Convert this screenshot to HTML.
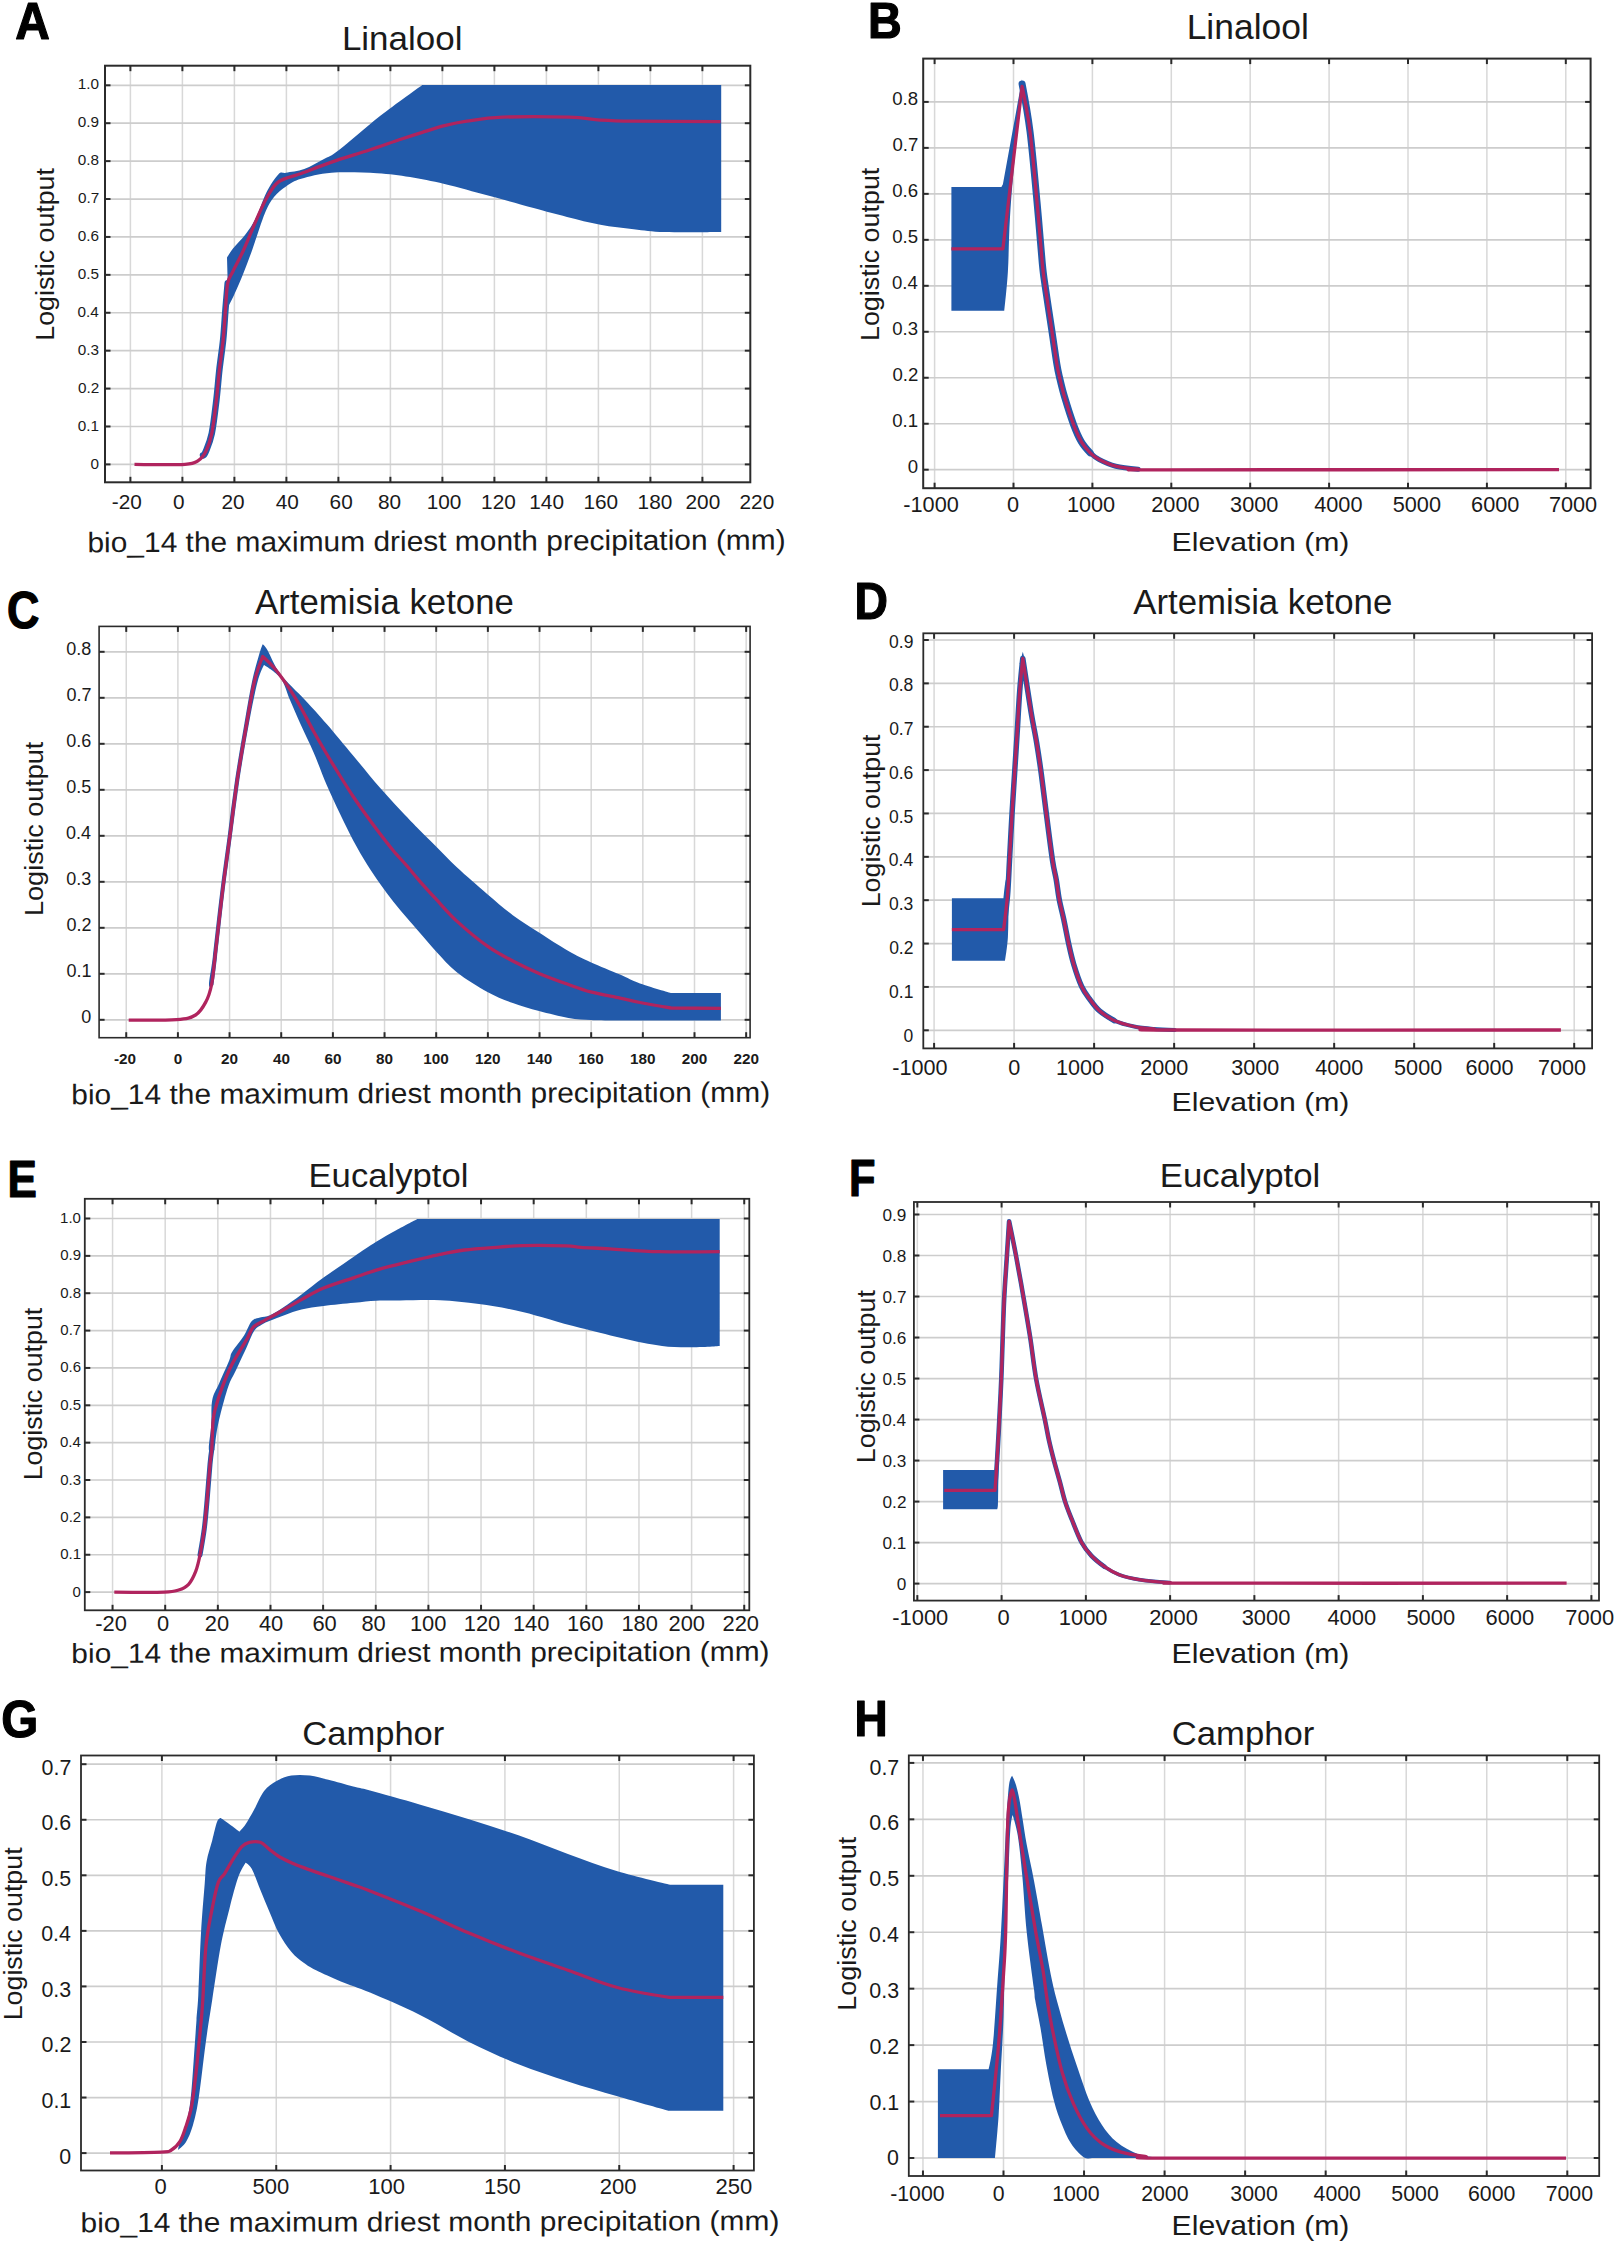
<!DOCTYPE html>
<html><head><meta charset="utf-8"><title>Response curves</title>
<style>
html,body{margin:0;padding:0;background:#fff;}
svg{display:block;}
text{font-family:"Liberation Sans",Arial,sans-serif;fill:#1a1a1a;}
</style></head><body>
<svg width="1617" height="2244" viewBox="0 0 1617 2244">
<rect width="1617" height="2244" fill="#fff"/>
<line x1="130.4" y1="65.7" x2="130.4" y2="482.3" stroke="#d8d8d8" stroke-width="1.5"/>
<line x1="182.4" y1="65.7" x2="182.4" y2="482.3" stroke="#d8d8d8" stroke-width="1.5"/>
<line x1="234.4" y1="65.7" x2="234.4" y2="482.3" stroke="#d8d8d8" stroke-width="1.5"/>
<line x1="286.4" y1="65.7" x2="286.4" y2="482.3" stroke="#d8d8d8" stroke-width="1.5"/>
<line x1="338.4" y1="65.7" x2="338.4" y2="482.3" stroke="#d8d8d8" stroke-width="1.5"/>
<line x1="390.4" y1="65.7" x2="390.4" y2="482.3" stroke="#d8d8d8" stroke-width="1.5"/>
<line x1="442.4" y1="65.7" x2="442.4" y2="482.3" stroke="#d8d8d8" stroke-width="1.5"/>
<line x1="494.4" y1="65.7" x2="494.4" y2="482.3" stroke="#d8d8d8" stroke-width="1.5"/>
<line x1="546.4" y1="65.7" x2="546.4" y2="482.3" stroke="#d8d8d8" stroke-width="1.5"/>
<line x1="598.4" y1="65.7" x2="598.4" y2="482.3" stroke="#d8d8d8" stroke-width="1.5"/>
<line x1="650.4" y1="65.7" x2="650.4" y2="482.3" stroke="#d8d8d8" stroke-width="1.5"/>
<line x1="702.4" y1="65.7" x2="702.4" y2="482.3" stroke="#d8d8d8" stroke-width="1.5"/>
<line x1="105" y1="464.4" x2="750.3" y2="464.4" stroke="#cdcdcd" stroke-width="1.7"/>
<line x1="105" y1="426.49" x2="750.3" y2="426.49" stroke="#cdcdcd" stroke-width="1.7"/>
<line x1="105" y1="388.58" x2="750.3" y2="388.58" stroke="#cdcdcd" stroke-width="1.7"/>
<line x1="105" y1="350.67" x2="750.3" y2="350.67" stroke="#cdcdcd" stroke-width="1.7"/>
<line x1="105" y1="312.76" x2="750.3" y2="312.76" stroke="#cdcdcd" stroke-width="1.7"/>
<line x1="105" y1="274.85" x2="750.3" y2="274.85" stroke="#cdcdcd" stroke-width="1.7"/>
<line x1="105" y1="236.94" x2="750.3" y2="236.94" stroke="#cdcdcd" stroke-width="1.7"/>
<line x1="105" y1="199.03" x2="750.3" y2="199.03" stroke="#cdcdcd" stroke-width="1.7"/>
<line x1="105" y1="161.12" x2="750.3" y2="161.12" stroke="#cdcdcd" stroke-width="1.7"/>
<line x1="105" y1="123.21" x2="750.3" y2="123.21" stroke="#cdcdcd" stroke-width="1.7"/>
<line x1="105" y1="85.3" x2="750.3" y2="85.3" stroke="#cdcdcd" stroke-width="1.7"/>
<path d="M227.7,283.3L227,257.6C227,257.6 229.97,252.3 233,248.5C236.03,244.7 241.4,239.85 245.2,234.8C249,229.75 252.27,225.27 255.8,218.2C259.33,211.13 262.62,199.73 266.4,192.4C270.18,185.07 275.23,177.48 278.5,174.2C281.77,170.92 281.72,173.57 286,172.7C290.28,171.83 297.87,171.28 304.2,169C310.53,166.72 318.2,162.17 324,159C329.8,155.83 329.67,157.17 339,150C348.33,142.83 366.12,126.85 380,116C393.88,105.15 422.3,84.9 422.3,84.9L721.2,84.9L721.2,232.1C721.2,232.1 679.58,232.58 665,232.1C650.42,231.62 644.47,230.43 633.7,229.2C622.93,227.97 611.52,226.75 600.4,224.7C589.28,222.65 578.13,219.68 567,216.9C555.87,214.12 546.6,211.52 533.6,208C520.6,204.48 503.85,199.8 489,195.8C474.15,191.8 457.67,187.13 444.5,184C431.33,180.87 421.25,178.8 410,177C398.75,175.2 390.08,173.92 377,173.2C363.92,172.48 344.13,171.77 331.5,172.7C318.87,173.63 308.78,176.52 301.2,178.8C293.62,181.08 290.53,183.37 286,186.4C281.47,189.43 277.53,192.47 274,197C270.47,201.53 268.35,205.02 264.8,213.6C261.25,222.18 256.23,238.65 252.7,248.5C249.17,258.35 246.63,265.12 243.6,272.7C240.57,280.28 237.27,287.95 234.5,294C231.73,300.05 227,309 227,309L227.7,283.3Z" fill="#225aaa"/>
<path d="M203,455.5C203,455.5 204.33,455.2 205.8,451.5C207.27,447.8 210.03,441.88 211.8,433.3C213.57,424.72 215.13,410.6 216.4,400C217.67,389.4 218.27,379.8 219.4,369.7C220.53,359.6 222.18,349.5 223.2,339.4C224.22,329.3 224.75,318.45 225.5,309.1C226.25,299.75 227.7,283.3 227.7,283.3" fill="none" stroke="#225aaa" stroke-width="6.5" stroke-linejoin="round" stroke-linecap="round"/>
<path d="M134.5,464.4C134.5,464.4 174.38,465.03 185,464.4C195.62,463.77 194.73,462.75 198.2,460.6C201.67,458.45 203.53,456.05 205.8,451.5C208.07,446.95 210.03,441.88 211.8,433.3C213.57,424.72 215.13,410.6 216.4,400C217.67,389.4 218.27,379.8 219.4,369.7C220.53,359.6 222.18,349.5 223.2,339.4C224.22,329.3 224.75,318.45 225.5,309.1C226.25,299.75 226.45,289.62 227.7,283.3C228.95,276.98 230.35,276.75 233,271.2C235.65,265.65 239.8,258.33 243.6,250C247.4,241.67 252,229.78 255.8,221.2C259.6,212.62 262.62,205.07 266.4,198.5C270.18,191.93 272.7,185.97 278.5,181.8C284.3,177.63 292.37,176.78 301.2,173.5C310.03,170.22 320.13,166.02 331.5,162.1C342.87,158.18 357.98,153.77 369.4,150C380.82,146.23 391.18,142.45 400,139.5C408.82,136.55 414.88,134.6 422.3,132.3C429.72,130 437.08,127.55 444.5,125.7C451.92,123.85 457.15,122.62 466.8,121.2C476.45,119.78 485.33,117.87 502.4,117.2C519.47,116.53 552.87,116.72 569.2,117.2C585.53,117.68 589.65,119.43 600.4,120.1C611.15,120.77 613.67,120.95 633.7,121.2C653.73,121.45 720.6,121.6 720.6,121.6" fill="none" stroke="#b0245e" stroke-width="3.3" stroke-linejoin="round" stroke-linecap="butt"/>
<rect x="105" y="65.7" width="645.3" height="416.6" fill="none" stroke="#2b2b2b" stroke-width="2.0"/>
<line x1="130.4" y1="482.3" x2="130.4" y2="476.8" stroke="#2b2b2b" stroke-width="2.0"/>
<line x1="130.4" y1="65.7" x2="130.4" y2="71.2" stroke="#2b2b2b" stroke-width="2.0"/>
<line x1="182.4" y1="482.3" x2="182.4" y2="476.8" stroke="#2b2b2b" stroke-width="2.0"/>
<line x1="182.4" y1="65.7" x2="182.4" y2="71.2" stroke="#2b2b2b" stroke-width="2.0"/>
<line x1="234.4" y1="482.3" x2="234.4" y2="476.8" stroke="#2b2b2b" stroke-width="2.0"/>
<line x1="234.4" y1="65.7" x2="234.4" y2="71.2" stroke="#2b2b2b" stroke-width="2.0"/>
<line x1="286.4" y1="482.3" x2="286.4" y2="476.8" stroke="#2b2b2b" stroke-width="2.0"/>
<line x1="286.4" y1="65.7" x2="286.4" y2="71.2" stroke="#2b2b2b" stroke-width="2.0"/>
<line x1="338.4" y1="482.3" x2="338.4" y2="476.8" stroke="#2b2b2b" stroke-width="2.0"/>
<line x1="338.4" y1="65.7" x2="338.4" y2="71.2" stroke="#2b2b2b" stroke-width="2.0"/>
<line x1="390.4" y1="482.3" x2="390.4" y2="476.8" stroke="#2b2b2b" stroke-width="2.0"/>
<line x1="390.4" y1="65.7" x2="390.4" y2="71.2" stroke="#2b2b2b" stroke-width="2.0"/>
<line x1="442.4" y1="482.3" x2="442.4" y2="476.8" stroke="#2b2b2b" stroke-width="2.0"/>
<line x1="442.4" y1="65.7" x2="442.4" y2="71.2" stroke="#2b2b2b" stroke-width="2.0"/>
<line x1="494.4" y1="482.3" x2="494.4" y2="476.8" stroke="#2b2b2b" stroke-width="2.0"/>
<line x1="494.4" y1="65.7" x2="494.4" y2="71.2" stroke="#2b2b2b" stroke-width="2.0"/>
<line x1="546.4" y1="482.3" x2="546.4" y2="476.8" stroke="#2b2b2b" stroke-width="2.0"/>
<line x1="546.4" y1="65.7" x2="546.4" y2="71.2" stroke="#2b2b2b" stroke-width="2.0"/>
<line x1="598.4" y1="482.3" x2="598.4" y2="476.8" stroke="#2b2b2b" stroke-width="2.0"/>
<line x1="598.4" y1="65.7" x2="598.4" y2="71.2" stroke="#2b2b2b" stroke-width="2.0"/>
<line x1="650.4" y1="482.3" x2="650.4" y2="476.8" stroke="#2b2b2b" stroke-width="2.0"/>
<line x1="650.4" y1="65.7" x2="650.4" y2="71.2" stroke="#2b2b2b" stroke-width="2.0"/>
<line x1="702.4" y1="482.3" x2="702.4" y2="476.8" stroke="#2b2b2b" stroke-width="2.0"/>
<line x1="702.4" y1="65.7" x2="702.4" y2="71.2" stroke="#2b2b2b" stroke-width="2.0"/>
<line x1="105" y1="464.4" x2="110.5" y2="464.4" stroke="#2b2b2b" stroke-width="2.0"/>
<line x1="750.3" y1="464.4" x2="744.8" y2="464.4" stroke="#2b2b2b" stroke-width="2.0"/>
<line x1="105" y1="426.49" x2="110.5" y2="426.49" stroke="#2b2b2b" stroke-width="2.0"/>
<line x1="750.3" y1="426.49" x2="744.8" y2="426.49" stroke="#2b2b2b" stroke-width="2.0"/>
<line x1="105" y1="388.58" x2="110.5" y2="388.58" stroke="#2b2b2b" stroke-width="2.0"/>
<line x1="750.3" y1="388.58" x2="744.8" y2="388.58" stroke="#2b2b2b" stroke-width="2.0"/>
<line x1="105" y1="350.67" x2="110.5" y2="350.67" stroke="#2b2b2b" stroke-width="2.0"/>
<line x1="750.3" y1="350.67" x2="744.8" y2="350.67" stroke="#2b2b2b" stroke-width="2.0"/>
<line x1="105" y1="312.76" x2="110.5" y2="312.76" stroke="#2b2b2b" stroke-width="2.0"/>
<line x1="750.3" y1="312.76" x2="744.8" y2="312.76" stroke="#2b2b2b" stroke-width="2.0"/>
<line x1="105" y1="274.85" x2="110.5" y2="274.85" stroke="#2b2b2b" stroke-width="2.0"/>
<line x1="750.3" y1="274.85" x2="744.8" y2="274.85" stroke="#2b2b2b" stroke-width="2.0"/>
<line x1="105" y1="236.94" x2="110.5" y2="236.94" stroke="#2b2b2b" stroke-width="2.0"/>
<line x1="750.3" y1="236.94" x2="744.8" y2="236.94" stroke="#2b2b2b" stroke-width="2.0"/>
<line x1="105" y1="199.03" x2="110.5" y2="199.03" stroke="#2b2b2b" stroke-width="2.0"/>
<line x1="750.3" y1="199.03" x2="744.8" y2="199.03" stroke="#2b2b2b" stroke-width="2.0"/>
<line x1="105" y1="161.12" x2="110.5" y2="161.12" stroke="#2b2b2b" stroke-width="2.0"/>
<line x1="750.3" y1="161.12" x2="744.8" y2="161.12" stroke="#2b2b2b" stroke-width="2.0"/>
<line x1="105" y1="123.21" x2="110.5" y2="123.21" stroke="#2b2b2b" stroke-width="2.0"/>
<line x1="750.3" y1="123.21" x2="744.8" y2="123.21" stroke="#2b2b2b" stroke-width="2.0"/>
<line x1="105" y1="85.3" x2="110.5" y2="85.3" stroke="#2b2b2b" stroke-width="2.0"/>
<line x1="750.3" y1="85.3" x2="744.8" y2="85.3" stroke="#2b2b2b" stroke-width="2.0"/>
<text x="90.44" y="468.5" font-size="15.3" textLength="8.51" lengthAdjust="spacingAndGlyphs">0</text>
<text x="77.82" y="430.59" font-size="15.3" textLength="21.27" lengthAdjust="spacingAndGlyphs">0.1</text>
<text x="77.9" y="392.68" font-size="15.3" textLength="21.27" lengthAdjust="spacingAndGlyphs">0.2</text>
<text x="77.75" y="354.77" font-size="15.3" textLength="21.27" lengthAdjust="spacingAndGlyphs">0.3</text>
<text x="77.59" y="316.86" font-size="15.3" textLength="21.27" lengthAdjust="spacingAndGlyphs">0.4</text>
<text x="77.75" y="278.95" font-size="15.3" textLength="21.27" lengthAdjust="spacingAndGlyphs">0.5</text>
<text x="77.75" y="241.04" font-size="15.3" textLength="21.27" lengthAdjust="spacingAndGlyphs">0.6</text>
<text x="77.9" y="203.13" font-size="15.3" textLength="21.27" lengthAdjust="spacingAndGlyphs">0.7</text>
<text x="77.75" y="165.22" font-size="15.3" textLength="21.27" lengthAdjust="spacingAndGlyphs">0.8</text>
<text x="77.82" y="127.31" font-size="15.3" textLength="21.27" lengthAdjust="spacingAndGlyphs">0.9</text>
<text x="77.67" y="89.4" font-size="15.3" textLength="21.27" lengthAdjust="spacingAndGlyphs">1.0</text>
<text x="111.77" y="508.6" font-size="20.8" textLength="30.06" lengthAdjust="spacingAndGlyphs">-20</text>
<text x="172.98" y="508.6" font-size="20.8" textLength="11.57" lengthAdjust="spacingAndGlyphs">0</text>
<text x="221.4" y="508.6" font-size="20.8" textLength="23.14" lengthAdjust="spacingAndGlyphs">20</text>
<text x="275.71" y="508.6" font-size="20.8" textLength="23.14" lengthAdjust="spacingAndGlyphs">40</text>
<text x="329.6" y="508.6" font-size="20.8" textLength="23.14" lengthAdjust="spacingAndGlyphs">60</text>
<text x="377.95" y="508.6" font-size="20.8" textLength="23.14" lengthAdjust="spacingAndGlyphs">80</text>
<text x="426.67" y="508.6" font-size="20.8" textLength="34.71" lengthAdjust="spacingAndGlyphs">100</text>
<text x="481.07" y="508.6" font-size="20.8" textLength="34.71" lengthAdjust="spacingAndGlyphs">120</text>
<text x="529.27" y="508.6" font-size="20.8" textLength="34.71" lengthAdjust="spacingAndGlyphs">140</text>
<text x="583.47" y="508.6" font-size="20.8" textLength="34.71" lengthAdjust="spacingAndGlyphs">160</text>
<text x="637.57" y="508.6" font-size="20.8" textLength="34.71" lengthAdjust="spacingAndGlyphs">180</text>
<text x="685.53" y="508.6" font-size="20.8" textLength="34.71" lengthAdjust="spacingAndGlyphs">200</text>
<text x="739.53" y="508.6" font-size="20.8" textLength="34.71" lengthAdjust="spacingAndGlyphs">220</text>
<text x="15.3" y="38.6" font-size="52.32" font-weight="bold" textLength="34.6" lengthAdjust="spacingAndGlyphs" style="fill:#000;stroke:#000;stroke-width:1.2px;stroke-linejoin:round">A</text>
<text x="341.9" y="50.2" font-size="33.66" textLength="120.56" lengthAdjust="spacingAndGlyphs">Linalool</text>
<text x="87.46" y="550.8" font-size="28.28" textLength="698.23" lengthAdjust="spacingAndGlyphs" transform="rotate(-0.23 436.6 550.8)">bio_14 the maximum driest month precipitation (mm)</text>
<text x="-340.74" y="53.8" font-size="24.93" textLength="172.68" lengthAdjust="spacingAndGlyphs" transform="rotate(-90)">Logistic output</text>
<line x1="934.6" y1="58.6" x2="934.6" y2="488.2" stroke="#d8d8d8" stroke-width="1.5"/>
<line x1="1013.5" y1="58.6" x2="1013.5" y2="488.2" stroke="#d8d8d8" stroke-width="1.5"/>
<line x1="1092.4" y1="58.6" x2="1092.4" y2="488.2" stroke="#d8d8d8" stroke-width="1.5"/>
<line x1="1171.3" y1="58.6" x2="1171.3" y2="488.2" stroke="#d8d8d8" stroke-width="1.5"/>
<line x1="1250.2" y1="58.6" x2="1250.2" y2="488.2" stroke="#d8d8d8" stroke-width="1.5"/>
<line x1="1329.1" y1="58.6" x2="1329.1" y2="488.2" stroke="#d8d8d8" stroke-width="1.5"/>
<line x1="1408" y1="58.6" x2="1408" y2="488.2" stroke="#d8d8d8" stroke-width="1.5"/>
<line x1="1486.9" y1="58.6" x2="1486.9" y2="488.2" stroke="#d8d8d8" stroke-width="1.5"/>
<line x1="1565.8" y1="58.6" x2="1565.8" y2="488.2" stroke="#d8d8d8" stroke-width="1.5"/>
<line x1="923.2" y1="469.7" x2="1590.6" y2="469.7" stroke="#cdcdcd" stroke-width="1.7"/>
<line x1="923.2" y1="423.73" x2="1590.6" y2="423.73" stroke="#cdcdcd" stroke-width="1.7"/>
<line x1="923.2" y1="377.75" x2="1590.6" y2="377.75" stroke="#cdcdcd" stroke-width="1.7"/>
<line x1="923.2" y1="331.77" x2="1590.6" y2="331.77" stroke="#cdcdcd" stroke-width="1.7"/>
<line x1="923.2" y1="285.8" x2="1590.6" y2="285.8" stroke="#cdcdcd" stroke-width="1.7"/>
<line x1="923.2" y1="239.83" x2="1590.6" y2="239.83" stroke="#cdcdcd" stroke-width="1.7"/>
<line x1="923.2" y1="193.85" x2="1590.6" y2="193.85" stroke="#cdcdcd" stroke-width="1.7"/>
<line x1="923.2" y1="147.88" x2="1590.6" y2="147.88" stroke="#cdcdcd" stroke-width="1.7"/>
<line x1="923.2" y1="101.9" x2="1590.6" y2="101.9" stroke="#cdcdcd" stroke-width="1.7"/>
<path d="M951.4,187.1L1001.4,187.1L1002.9,184.3L1022.1,78.6C1022.1,78.6 1017.72,122.63 1015.7,145.7C1013.68,168.77 1011.3,196.05 1010,217C1008.7,237.95 1008.85,255.78 1007.9,271.4C1006.95,287.02 1004.3,310.7 1004.3,310.7L951.4,310.7L951.4,187.1Z" fill="#225aaa"/>
<path d="M1022.1,84C1022.1,84 1027.5,111.58 1030,131.4C1032.5,151.22 1035.05,180.9 1037.1,202.9C1039.15,224.9 1040.97,249.6 1042.3,263.4C1043.63,277.2 1043.52,274.55 1045.1,285.7C1046.68,296.85 1049.85,317.3 1051.8,330.3C1053.75,343.3 1055.5,355.82 1056.8,363.7C1058.1,371.58 1058.3,372.03 1059.6,377.6C1060.9,383.17 1062.28,389.3 1064.6,397.1C1066.92,404.9 1070.72,416.97 1073.5,424.4C1076.28,431.83 1078.52,436.97 1081.3,441.7C1084.08,446.43 1090.2,452.8 1090.2,452.8" fill="none" stroke="#225aaa" stroke-width="7.0" stroke-linejoin="round" stroke-linecap="round"/>
<path d="M1081.3,441.7C1081.3,441.7 1087.23,449.83 1090.2,452.8C1093.17,455.77 1094.83,457.27 1099.1,459.5C1103.37,461.73 1109.3,464.58 1115.8,466.2C1122.3,467.82 1138.1,469.2 1138.1,469.2" fill="none" stroke="#225aaa" stroke-width="5.0" stroke-linejoin="round" stroke-linecap="round"/>
<path d="M951.4,248.9C951.4,248.9 1002.9,248.9 1002.9,248.9L1022.1,86.4C1022.1,86.4 1027.5,111.98 1030,131.4C1032.5,150.82 1035.05,180.9 1037.1,202.9C1039.15,224.9 1040.97,249.6 1042.3,263.4C1043.63,277.2 1043.52,274.55 1045.1,285.7C1046.68,296.85 1049.85,317.3 1051.8,330.3C1053.75,343.3 1055.5,355.82 1056.8,363.7C1058.1,371.58 1058.3,372.03 1059.6,377.6C1060.9,383.17 1062.28,389.3 1064.6,397.1C1066.92,404.9 1070.72,416.97 1073.5,424.4C1076.28,431.83 1078.52,436.97 1081.3,441.7C1084.08,446.43 1087.23,449.83 1090.2,452.8C1093.17,455.77 1094.83,457.27 1099.1,459.5C1103.37,461.73 1109.3,464.58 1115.8,466.2C1122.3,467.82 1129.73,468.6 1138.1,469.2C1146.47,469.8 1095.85,469.73 1166,469.8C1236.15,469.87 1559,469.6 1559,469.6" fill="none" stroke="#b0245e" stroke-width="3.3" stroke-linejoin="round" stroke-linecap="butt"/>
<rect x="923.2" y="58.6" width="667.4" height="429.6" fill="none" stroke="#2b2b2b" stroke-width="2.0"/>
<line x1="934.6" y1="488.2" x2="934.6" y2="482.7" stroke="#2b2b2b" stroke-width="2.0"/>
<line x1="934.6" y1="58.6" x2="934.6" y2="64.1" stroke="#2b2b2b" stroke-width="2.0"/>
<line x1="1013.5" y1="488.2" x2="1013.5" y2="482.7" stroke="#2b2b2b" stroke-width="2.0"/>
<line x1="1013.5" y1="58.6" x2="1013.5" y2="64.1" stroke="#2b2b2b" stroke-width="2.0"/>
<line x1="1092.4" y1="488.2" x2="1092.4" y2="482.7" stroke="#2b2b2b" stroke-width="2.0"/>
<line x1="1092.4" y1="58.6" x2="1092.4" y2="64.1" stroke="#2b2b2b" stroke-width="2.0"/>
<line x1="1171.3" y1="488.2" x2="1171.3" y2="482.7" stroke="#2b2b2b" stroke-width="2.0"/>
<line x1="1171.3" y1="58.6" x2="1171.3" y2="64.1" stroke="#2b2b2b" stroke-width="2.0"/>
<line x1="1250.2" y1="488.2" x2="1250.2" y2="482.7" stroke="#2b2b2b" stroke-width="2.0"/>
<line x1="1250.2" y1="58.6" x2="1250.2" y2="64.1" stroke="#2b2b2b" stroke-width="2.0"/>
<line x1="1329.1" y1="488.2" x2="1329.1" y2="482.7" stroke="#2b2b2b" stroke-width="2.0"/>
<line x1="1329.1" y1="58.6" x2="1329.1" y2="64.1" stroke="#2b2b2b" stroke-width="2.0"/>
<line x1="1408" y1="488.2" x2="1408" y2="482.7" stroke="#2b2b2b" stroke-width="2.0"/>
<line x1="1408" y1="58.6" x2="1408" y2="64.1" stroke="#2b2b2b" stroke-width="2.0"/>
<line x1="1486.9" y1="488.2" x2="1486.9" y2="482.7" stroke="#2b2b2b" stroke-width="2.0"/>
<line x1="1486.9" y1="58.6" x2="1486.9" y2="64.1" stroke="#2b2b2b" stroke-width="2.0"/>
<line x1="1565.8" y1="488.2" x2="1565.8" y2="482.7" stroke="#2b2b2b" stroke-width="2.0"/>
<line x1="1565.8" y1="58.6" x2="1565.8" y2="64.1" stroke="#2b2b2b" stroke-width="2.0"/>
<line x1="923.2" y1="469.7" x2="928.7" y2="469.7" stroke="#2b2b2b" stroke-width="2.0"/>
<line x1="1590.6" y1="469.7" x2="1585.1" y2="469.7" stroke="#2b2b2b" stroke-width="2.0"/>
<line x1="923.2" y1="423.73" x2="928.7" y2="423.73" stroke="#2b2b2b" stroke-width="2.0"/>
<line x1="1590.6" y1="423.73" x2="1585.1" y2="423.73" stroke="#2b2b2b" stroke-width="2.0"/>
<line x1="923.2" y1="377.75" x2="928.7" y2="377.75" stroke="#2b2b2b" stroke-width="2.0"/>
<line x1="1590.6" y1="377.75" x2="1585.1" y2="377.75" stroke="#2b2b2b" stroke-width="2.0"/>
<line x1="923.2" y1="331.77" x2="928.7" y2="331.77" stroke="#2b2b2b" stroke-width="2.0"/>
<line x1="1590.6" y1="331.77" x2="1585.1" y2="331.77" stroke="#2b2b2b" stroke-width="2.0"/>
<line x1="923.2" y1="285.8" x2="928.7" y2="285.8" stroke="#2b2b2b" stroke-width="2.0"/>
<line x1="1590.6" y1="285.8" x2="1585.1" y2="285.8" stroke="#2b2b2b" stroke-width="2.0"/>
<line x1="923.2" y1="239.83" x2="928.7" y2="239.83" stroke="#2b2b2b" stroke-width="2.0"/>
<line x1="1590.6" y1="239.83" x2="1585.1" y2="239.83" stroke="#2b2b2b" stroke-width="2.0"/>
<line x1="923.2" y1="193.85" x2="928.7" y2="193.85" stroke="#2b2b2b" stroke-width="2.0"/>
<line x1="1590.6" y1="193.85" x2="1585.1" y2="193.85" stroke="#2b2b2b" stroke-width="2.0"/>
<line x1="923.2" y1="147.88" x2="928.7" y2="147.88" stroke="#2b2b2b" stroke-width="2.0"/>
<line x1="1590.6" y1="147.88" x2="1585.1" y2="147.88" stroke="#2b2b2b" stroke-width="2.0"/>
<line x1="923.2" y1="101.9" x2="928.7" y2="101.9" stroke="#2b2b2b" stroke-width="2.0"/>
<line x1="1590.6" y1="101.9" x2="1585.1" y2="101.9" stroke="#2b2b2b" stroke-width="2.0"/>
<text x="907.63" y="473.2" font-size="18.6" textLength="10.34" lengthAdjust="spacingAndGlyphs">0</text>
<text x="892.28" y="427.23" font-size="18.6" textLength="25.86" lengthAdjust="spacingAndGlyphs">0.1</text>
<text x="892.38" y="381.25" font-size="18.6" textLength="25.86" lengthAdjust="spacingAndGlyphs">0.2</text>
<text x="892.19" y="335.27" font-size="18.6" textLength="25.86" lengthAdjust="spacingAndGlyphs">0.3</text>
<text x="892" y="289.3" font-size="18.6" textLength="25.86" lengthAdjust="spacingAndGlyphs">0.4</text>
<text x="892.19" y="243.33" font-size="18.6" textLength="25.86" lengthAdjust="spacingAndGlyphs">0.5</text>
<text x="892.19" y="197.35" font-size="18.6" textLength="25.86" lengthAdjust="spacingAndGlyphs">0.6</text>
<text x="892.38" y="151.38" font-size="18.6" textLength="25.86" lengthAdjust="spacingAndGlyphs">0.7</text>
<text x="892.19" y="105.4" font-size="18.6" textLength="25.86" lengthAdjust="spacingAndGlyphs">0.8</text>
<text x="903.27" y="512" font-size="21.7" textLength="55.5" lengthAdjust="spacingAndGlyphs">-1000</text>
<text x="1007.12" y="512" font-size="21.7" textLength="12.07" lengthAdjust="spacingAndGlyphs">0</text>
<text x="1066.92" y="512" font-size="21.7" textLength="48.28" lengthAdjust="spacingAndGlyphs">1000</text>
<text x="1151.3" y="512" font-size="21.7" textLength="48.28" lengthAdjust="spacingAndGlyphs">2000</text>
<text x="1230.1" y="512" font-size="21.7" textLength="48.28" lengthAdjust="spacingAndGlyphs">3000</text>
<text x="1314.22" y="512" font-size="21.7" textLength="48.28" lengthAdjust="spacingAndGlyphs">4000</text>
<text x="1392.7" y="512" font-size="21.7" textLength="48.28" lengthAdjust="spacingAndGlyphs">5000</text>
<text x="1471.1" y="512" font-size="21.7" textLength="48.28" lengthAdjust="spacingAndGlyphs">6000</text>
<text x="1548.9" y="512" font-size="21.7" textLength="48.28" lengthAdjust="spacingAndGlyphs">7000</text>
<text x="868.06" y="38.2" font-size="50.72" font-weight="bold" textLength="33.74" lengthAdjust="spacingAndGlyphs" style="fill:#000;stroke:#000;stroke-width:1.2px;stroke-linejoin:round">B</text>
<text x="1186.66" y="39.2" font-size="35.07" textLength="122.23" lengthAdjust="spacingAndGlyphs">Linalool</text>
<text x="1171.58" y="551.2" font-size="26.52" textLength="177.85" lengthAdjust="spacingAndGlyphs">Elevation (m)</text>
<text x="-341.05" y="878.9" font-size="25.65" textLength="173.39" lengthAdjust="spacingAndGlyphs" transform="rotate(-90)">Logistic output</text>
<line x1="126.24" y1="626.4" x2="126.24" y2="1037.7" stroke="#d8d8d8" stroke-width="1.5"/>
<line x1="177.9" y1="626.4" x2="177.9" y2="1037.7" stroke="#d8d8d8" stroke-width="1.5"/>
<line x1="229.56" y1="626.4" x2="229.56" y2="1037.7" stroke="#d8d8d8" stroke-width="1.5"/>
<line x1="281.22" y1="626.4" x2="281.22" y2="1037.7" stroke="#d8d8d8" stroke-width="1.5"/>
<line x1="332.88" y1="626.4" x2="332.88" y2="1037.7" stroke="#d8d8d8" stroke-width="1.5"/>
<line x1="384.54" y1="626.4" x2="384.54" y2="1037.7" stroke="#d8d8d8" stroke-width="1.5"/>
<line x1="436.2" y1="626.4" x2="436.2" y2="1037.7" stroke="#d8d8d8" stroke-width="1.5"/>
<line x1="487.86" y1="626.4" x2="487.86" y2="1037.7" stroke="#d8d8d8" stroke-width="1.5"/>
<line x1="539.52" y1="626.4" x2="539.52" y2="1037.7" stroke="#d8d8d8" stroke-width="1.5"/>
<line x1="591.18" y1="626.4" x2="591.18" y2="1037.7" stroke="#d8d8d8" stroke-width="1.5"/>
<line x1="642.84" y1="626.4" x2="642.84" y2="1037.7" stroke="#d8d8d8" stroke-width="1.5"/>
<line x1="694.5" y1="626.4" x2="694.5" y2="1037.7" stroke="#d8d8d8" stroke-width="1.5"/>
<line x1="746.16" y1="626.4" x2="746.16" y2="1037.7" stroke="#d8d8d8" stroke-width="1.5"/>
<line x1="99.1" y1="1019.8" x2="750.1" y2="1019.8" stroke="#cdcdcd" stroke-width="1.7"/>
<line x1="99.1" y1="973.8" x2="750.1" y2="973.8" stroke="#cdcdcd" stroke-width="1.7"/>
<line x1="99.1" y1="927.8" x2="750.1" y2="927.8" stroke="#cdcdcd" stroke-width="1.7"/>
<line x1="99.1" y1="881.8" x2="750.1" y2="881.8" stroke="#cdcdcd" stroke-width="1.7"/>
<line x1="99.1" y1="835.8" x2="750.1" y2="835.8" stroke="#cdcdcd" stroke-width="1.7"/>
<line x1="99.1" y1="789.8" x2="750.1" y2="789.8" stroke="#cdcdcd" stroke-width="1.7"/>
<line x1="99.1" y1="743.8" x2="750.1" y2="743.8" stroke="#cdcdcd" stroke-width="1.7"/>
<line x1="99.1" y1="697.8" x2="750.1" y2="697.8" stroke="#cdcdcd" stroke-width="1.7"/>
<line x1="99.1" y1="651.8" x2="750.1" y2="651.8" stroke="#cdcdcd" stroke-width="1.7"/>
<path d="M209,985C208.88,980.33 210.92,972.6 212.8,957C214.68,941.4 217.8,911.68 220.3,891.4C222.8,871.12 225.32,854.02 227.8,835.3C230.28,816.58 232.42,797.82 235.2,779.1C237.98,760.38 241.7,739.22 244.5,723C247.3,706.78 249.58,693.13 252,681.8C254.42,670.47 257.22,661.25 259,655C260.78,648.75 262.7,644.3 262.7,644.3C262.7,644.3 264.43,645 267.4,650C270.37,655 274.23,665.97 280.5,674.3C286.77,682.63 297.3,691.72 305,700C312.7,708.28 318.62,714.67 326.7,724C334.78,733.33 344.58,745.33 353.5,756C362.42,766.67 371.28,777.83 380.2,788C389.12,798.17 400.37,809.92 407,817C413.63,824.08 415.15,825.58 420,830.5C424.85,835.42 429.92,840.33 436.1,846.5C442.28,852.67 448.55,859.55 457.1,867.5C465.65,875.45 478.12,886.25 487.4,894.2C496.68,902.15 504.2,908.8 512.8,915.2C521.4,921.6 529.73,926.62 539,932.6C548.27,938.58 559.78,946.17 568.4,951.1C577.02,956.03 582.1,958.28 590.7,962.2C599.3,966.12 611.78,971.05 620,974.6C628.22,978.15 631.48,980.42 640,983.5C648.52,986.58 671.1,993.1 671.1,993.1L720.9,993.1L720.9,1020.4C720.9,1020.4 626.7,1020.47 605,1020.4C583.3,1020.33 596.8,1020.42 590.7,1020C584.6,1019.58 577.02,1019.38 568.4,1017.9C559.78,1016.42 548.27,1013.58 539,1011.1C529.73,1008.62 521.4,1006.2 512.8,1003C504.2,999.8 496.68,996.98 487.4,991.9C478.12,986.82 465.65,979.23 457.1,972.5C448.55,965.77 442.28,958.08 436.1,951.5C429.92,944.92 424.85,938.58 420,933C415.15,927.42 411.4,923.17 407,918C402.6,912.83 398.07,907.67 393.6,902C389.13,896.33 384.67,890.33 380.2,884C375.73,877.67 371.25,871.17 366.8,864C362.35,856.83 357.95,849.33 353.5,841C349.05,832.67 344.57,823.33 340.1,814C335.63,804.67 331.15,795.33 326.7,785C322.25,774.67 317.85,762.33 313.4,752C308.95,741.67 303.9,731.67 300,723C296.1,714.33 293.25,707.5 290,700C286.75,692.5 284.83,683.83 280.5,678C276.17,672.17 264,665 264,665C264,665 260,672.33 257.5,682C255,691.67 252,706.83 249,723C246,739.17 242.33,760.33 239.5,779C236.67,797.67 234.5,816.33 232,835C229.5,853.67 227,870.67 224.5,891C222,911.33 218.83,941.33 217,957C215.17,972.67 213.5,985 213.5,985C213.5,985 209.12,989.67 209,985Z" fill="#225aaa"/>
<path d="M128.7,1020.1C128.7,1020.1 165.35,1020.45 176.5,1019.6C187.65,1018.75 190.7,1017.97 195.6,1015C200.5,1012.03 203.25,1006.8 205.9,1001.8C208.55,996.8 209.98,992.47 211.5,985C213.02,977.53 213.17,972.6 215,957C216.83,941.4 220,911.68 222.5,891.4C225,871.12 227.52,854.02 230,835.3C232.48,816.58 234.6,797.82 237.4,779.1C240.2,760.38 243.98,739.22 246.8,723C249.62,706.78 251.65,692.88 254.3,681.8C256.95,670.72 262.7,656.5 262.7,656.5C262.7,656.5 270.37,663.23 274.9,668.7C279.43,674.17 285.72,683.08 289.9,689.3C294.08,695.52 296.08,699.05 300,706C303.92,712.95 308.95,723 313.4,731C317.85,739 322.25,746.5 326.7,754C331.15,761.5 335.63,768.83 340.1,776C344.57,783.17 349.05,790.33 353.5,797C357.95,803.67 362.35,809.83 366.8,816C371.25,822.17 375.73,828.17 380.2,834C384.67,839.83 389.13,845.67 393.6,851C398.07,856.33 402.55,860.87 407,866C411.45,871.13 415.45,876.27 420.3,881.8C425.15,887.33 429.97,892.6 436.1,899.2C442.23,905.8 448.55,913.57 457.1,921.4C465.65,929.23 478.12,939.6 487.4,946.2C496.68,952.8 504.2,956.47 512.8,961C521.4,965.53 529.73,969.48 539,973.4C548.27,977.32 559.78,981.42 568.4,984.5C577.02,987.58 582.1,989.63 590.7,991.9C599.3,994.17 611.78,996.33 620,998.1C628.22,999.87 631.48,1000.85 640,1002.5C648.52,1004.15 671.1,1008 671.1,1008C671.1,1008 720.9,1008.3 720.9,1008.3" fill="none" stroke="#b0245e" stroke-width="3.3" stroke-linejoin="round" stroke-linecap="butt"/>
<rect x="99.1" y="626.4" width="651" height="411.3" fill="none" stroke="#2b2b2b" stroke-width="1.6"/>
<line x1="126.24" y1="1037.7" x2="126.24" y2="1032.2" stroke="#2b2b2b" stroke-width="2.0"/>
<line x1="126.24" y1="626.4" x2="126.24" y2="631.9" stroke="#2b2b2b" stroke-width="2.0"/>
<line x1="177.9" y1="1037.7" x2="177.9" y2="1032.2" stroke="#2b2b2b" stroke-width="2.0"/>
<line x1="177.9" y1="626.4" x2="177.9" y2="631.9" stroke="#2b2b2b" stroke-width="2.0"/>
<line x1="229.56" y1="1037.7" x2="229.56" y2="1032.2" stroke="#2b2b2b" stroke-width="2.0"/>
<line x1="229.56" y1="626.4" x2="229.56" y2="631.9" stroke="#2b2b2b" stroke-width="2.0"/>
<line x1="281.22" y1="1037.7" x2="281.22" y2="1032.2" stroke="#2b2b2b" stroke-width="2.0"/>
<line x1="281.22" y1="626.4" x2="281.22" y2="631.9" stroke="#2b2b2b" stroke-width="2.0"/>
<line x1="332.88" y1="1037.7" x2="332.88" y2="1032.2" stroke="#2b2b2b" stroke-width="2.0"/>
<line x1="332.88" y1="626.4" x2="332.88" y2="631.9" stroke="#2b2b2b" stroke-width="2.0"/>
<line x1="384.54" y1="1037.7" x2="384.54" y2="1032.2" stroke="#2b2b2b" stroke-width="2.0"/>
<line x1="384.54" y1="626.4" x2="384.54" y2="631.9" stroke="#2b2b2b" stroke-width="2.0"/>
<line x1="436.2" y1="1037.7" x2="436.2" y2="1032.2" stroke="#2b2b2b" stroke-width="2.0"/>
<line x1="436.2" y1="626.4" x2="436.2" y2="631.9" stroke="#2b2b2b" stroke-width="2.0"/>
<line x1="487.86" y1="1037.7" x2="487.86" y2="1032.2" stroke="#2b2b2b" stroke-width="2.0"/>
<line x1="487.86" y1="626.4" x2="487.86" y2="631.9" stroke="#2b2b2b" stroke-width="2.0"/>
<line x1="539.52" y1="1037.7" x2="539.52" y2="1032.2" stroke="#2b2b2b" stroke-width="2.0"/>
<line x1="539.52" y1="626.4" x2="539.52" y2="631.9" stroke="#2b2b2b" stroke-width="2.0"/>
<line x1="591.18" y1="1037.7" x2="591.18" y2="1032.2" stroke="#2b2b2b" stroke-width="2.0"/>
<line x1="591.18" y1="626.4" x2="591.18" y2="631.9" stroke="#2b2b2b" stroke-width="2.0"/>
<line x1="642.84" y1="1037.7" x2="642.84" y2="1032.2" stroke="#2b2b2b" stroke-width="2.0"/>
<line x1="642.84" y1="626.4" x2="642.84" y2="631.9" stroke="#2b2b2b" stroke-width="2.0"/>
<line x1="694.5" y1="1037.7" x2="694.5" y2="1032.2" stroke="#2b2b2b" stroke-width="2.0"/>
<line x1="694.5" y1="626.4" x2="694.5" y2="631.9" stroke="#2b2b2b" stroke-width="2.0"/>
<line x1="746.16" y1="1037.7" x2="746.16" y2="1032.2" stroke="#2b2b2b" stroke-width="2.0"/>
<line x1="746.16" y1="626.4" x2="746.16" y2="631.9" stroke="#2b2b2b" stroke-width="2.0"/>
<line x1="99.1" y1="1019.8" x2="104.6" y2="1019.8" stroke="#2b2b2b" stroke-width="2.0"/>
<line x1="750.1" y1="1019.8" x2="744.6" y2="1019.8" stroke="#2b2b2b" stroke-width="2.0"/>
<line x1="99.1" y1="973.8" x2="104.6" y2="973.8" stroke="#2b2b2b" stroke-width="2.0"/>
<line x1="750.1" y1="973.8" x2="744.6" y2="973.8" stroke="#2b2b2b" stroke-width="2.0"/>
<line x1="99.1" y1="927.8" x2="104.6" y2="927.8" stroke="#2b2b2b" stroke-width="2.0"/>
<line x1="750.1" y1="927.8" x2="744.6" y2="927.8" stroke="#2b2b2b" stroke-width="2.0"/>
<line x1="99.1" y1="881.8" x2="104.6" y2="881.8" stroke="#2b2b2b" stroke-width="2.0"/>
<line x1="750.1" y1="881.8" x2="744.6" y2="881.8" stroke="#2b2b2b" stroke-width="2.0"/>
<line x1="99.1" y1="835.8" x2="104.6" y2="835.8" stroke="#2b2b2b" stroke-width="2.0"/>
<line x1="750.1" y1="835.8" x2="744.6" y2="835.8" stroke="#2b2b2b" stroke-width="2.0"/>
<line x1="99.1" y1="789.8" x2="104.6" y2="789.8" stroke="#2b2b2b" stroke-width="2.0"/>
<line x1="750.1" y1="789.8" x2="744.6" y2="789.8" stroke="#2b2b2b" stroke-width="2.0"/>
<line x1="99.1" y1="743.8" x2="104.6" y2="743.8" stroke="#2b2b2b" stroke-width="2.0"/>
<line x1="750.1" y1="743.8" x2="744.6" y2="743.8" stroke="#2b2b2b" stroke-width="2.0"/>
<line x1="99.1" y1="697.8" x2="104.6" y2="697.8" stroke="#2b2b2b" stroke-width="2.0"/>
<line x1="750.1" y1="697.8" x2="744.6" y2="697.8" stroke="#2b2b2b" stroke-width="2.0"/>
<line x1="99.1" y1="651.8" x2="104.6" y2="651.8" stroke="#2b2b2b" stroke-width="2.0"/>
<line x1="750.1" y1="651.8" x2="744.6" y2="651.8" stroke="#2b2b2b" stroke-width="2.0"/>
<text x="81.24" y="1023.2" font-size="18" textLength="10.01" lengthAdjust="spacingAndGlyphs">0</text>
<text x="66.39" y="977.2" font-size="18" textLength="25.02" lengthAdjust="spacingAndGlyphs">0.1</text>
<text x="66.48" y="931.2" font-size="18" textLength="25.02" lengthAdjust="spacingAndGlyphs">0.2</text>
<text x="66.3" y="885.2" font-size="18" textLength="25.02" lengthAdjust="spacingAndGlyphs">0.3</text>
<text x="66.12" y="839.2" font-size="18" textLength="25.02" lengthAdjust="spacingAndGlyphs">0.4</text>
<text x="66.3" y="793.2" font-size="18" textLength="25.02" lengthAdjust="spacingAndGlyphs">0.5</text>
<text x="66.3" y="747.2" font-size="18" textLength="25.02" lengthAdjust="spacingAndGlyphs">0.6</text>
<text x="66.48" y="701.2" font-size="18" textLength="25.02" lengthAdjust="spacingAndGlyphs">0.7</text>
<text x="66.3" y="655.2" font-size="18" textLength="25.02" lengthAdjust="spacingAndGlyphs">0.8</text>
<text x="113.95" y="1064.4" font-size="15.3" font-weight="bold" textLength="22.11" lengthAdjust="spacingAndGlyphs">-20</text>
<text x="173.65" y="1064.4" font-size="15.3" font-weight="bold" textLength="8.51" lengthAdjust="spacingAndGlyphs">0</text>
<text x="221.11" y="1064.4" font-size="15.3" font-weight="bold" textLength="17.02" lengthAdjust="spacingAndGlyphs">20</text>
<text x="272.92" y="1064.4" font-size="15.3" font-weight="bold" textLength="17.02" lengthAdjust="spacingAndGlyphs">40</text>
<text x="324.43" y="1064.4" font-size="15.3" font-weight="bold" textLength="17.02" lengthAdjust="spacingAndGlyphs">60</text>
<text x="376.12" y="1064.4" font-size="15.3" font-weight="bold" textLength="17.02" lengthAdjust="spacingAndGlyphs">80</text>
<text x="423.31" y="1064.4" font-size="15.3" font-weight="bold" textLength="25.53" lengthAdjust="spacingAndGlyphs">100</text>
<text x="474.97" y="1064.4" font-size="15.3" font-weight="bold" textLength="25.53" lengthAdjust="spacingAndGlyphs">120</text>
<text x="526.63" y="1064.4" font-size="15.3" font-weight="bold" textLength="25.53" lengthAdjust="spacingAndGlyphs">140</text>
<text x="578.29" y="1064.4" font-size="15.3" font-weight="bold" textLength="25.53" lengthAdjust="spacingAndGlyphs">160</text>
<text x="629.95" y="1064.4" font-size="15.3" font-weight="bold" textLength="25.53" lengthAdjust="spacingAndGlyphs">180</text>
<text x="681.8" y="1064.4" font-size="15.3" font-weight="bold" textLength="25.53" lengthAdjust="spacingAndGlyphs">200</text>
<text x="733.46" y="1064.4" font-size="15.3" font-weight="bold" textLength="25.53" lengthAdjust="spacingAndGlyphs">220</text>
<text x="7.1" y="628.2" font-size="51" font-weight="bold" textLength="32.42" lengthAdjust="spacingAndGlyphs" style="fill:#000;stroke:#000;stroke-width:1.2px;stroke-linejoin:round">C</text>
<text x="255.1" y="614" font-size="34.93" textLength="258.67" lengthAdjust="spacingAndGlyphs">Artemisia ketone</text>
<text x="71.25" y="1103" font-size="28.28" textLength="698.93" lengthAdjust="spacingAndGlyphs" transform="rotate(-0.2 420.75 1103)">bio_14 the maximum driest month precipitation (mm)</text>
<text x="-915.96" y="42.9" font-size="26.23" textLength="174.3" lengthAdjust="spacingAndGlyphs" transform="rotate(-90)">Logistic output</text>
<line x1="934.09" y1="633.3" x2="934.09" y2="1048.4" stroke="#d8d8d8" stroke-width="1.5"/>
<line x1="1014.1" y1="633.3" x2="1014.1" y2="1048.4" stroke="#d8d8d8" stroke-width="1.5"/>
<line x1="1094.11" y1="633.3" x2="1094.11" y2="1048.4" stroke="#d8d8d8" stroke-width="1.5"/>
<line x1="1174.13" y1="633.3" x2="1174.13" y2="1048.4" stroke="#d8d8d8" stroke-width="1.5"/>
<line x1="1254.14" y1="633.3" x2="1254.14" y2="1048.4" stroke="#d8d8d8" stroke-width="1.5"/>
<line x1="1334.16" y1="633.3" x2="1334.16" y2="1048.4" stroke="#d8d8d8" stroke-width="1.5"/>
<line x1="1414.17" y1="633.3" x2="1414.17" y2="1048.4" stroke="#d8d8d8" stroke-width="1.5"/>
<line x1="1494.19" y1="633.3" x2="1494.19" y2="1048.4" stroke="#d8d8d8" stroke-width="1.5"/>
<line x1="1574.2" y1="633.3" x2="1574.2" y2="1048.4" stroke="#d8d8d8" stroke-width="1.5"/>
<line x1="923.3" y1="1030.3" x2="1592.1" y2="1030.3" stroke="#cdcdcd" stroke-width="1.7"/>
<line x1="923.3" y1="986.93" x2="1592.1" y2="986.93" stroke="#cdcdcd" stroke-width="1.7"/>
<line x1="923.3" y1="943.57" x2="1592.1" y2="943.57" stroke="#cdcdcd" stroke-width="1.7"/>
<line x1="923.3" y1="900.2" x2="1592.1" y2="900.2" stroke="#cdcdcd" stroke-width="1.7"/>
<line x1="923.3" y1="856.83" x2="1592.1" y2="856.83" stroke="#cdcdcd" stroke-width="1.7"/>
<line x1="923.3" y1="813.47" x2="1592.1" y2="813.47" stroke="#cdcdcd" stroke-width="1.7"/>
<line x1="923.3" y1="770.1" x2="1592.1" y2="770.1" stroke="#cdcdcd" stroke-width="1.7"/>
<line x1="923.3" y1="726.73" x2="1592.1" y2="726.73" stroke="#cdcdcd" stroke-width="1.7"/>
<line x1="923.3" y1="683.37" x2="1592.1" y2="683.37" stroke="#cdcdcd" stroke-width="1.7"/>
<line x1="923.3" y1="640" x2="1592.1" y2="640" stroke="#cdcdcd" stroke-width="1.7"/>
<path d="M951.9,898.3L1003.5,898.3C1003.5,898.3 1004.88,883.05 1005.8,880C1006.72,876.95 1008.53,876.67 1009,880C1009.47,883.33 1008.78,890.5 1008.6,900C1008.42,909.5 1008.5,926.88 1007.9,937C1007.3,947.12 1005,960.7 1005,960.7L951.9,960.7L951.9,898.3Z" fill="#225aaa"/>
<path d="M1019.6,664L1022.8,651.8L1026,664L1019.6,664Z" fill="#225aaa"/>
<path d="M1003.6,929.7C1003.6,929.7 1006.52,907.27 1007.5,895.7C1008.48,884.13 1008.75,873.88 1009.5,860.3C1010.25,846.72 1011.15,828.72 1012,814.2C1012.85,799.68 1013.73,786.87 1014.6,773.2C1015.47,759.53 1016.35,745.87 1017.2,732.2C1018.05,718.53 1018.77,703.5 1019.7,691.2C1020.63,678.9 1022.8,658.4 1022.8,658.4C1022.8,658.4 1028.7,697.68 1031,711.7C1033.3,725.72 1034.9,732.25 1036.6,742.5C1038.3,752.75 1039.57,761.25 1041.2,773.2C1042.83,785.15 1044.52,799.68 1046.4,814.2C1048.28,828.72 1050.85,849.33 1052.5,860.3C1054.15,871.27 1055.17,873.42 1056.3,880C1057.43,886.58 1058.05,893.2 1059.3,899.8C1060.55,906.4 1062.23,912.25 1063.8,919.6C1065.37,926.95 1067.05,936.47 1068.7,943.9C1070.35,951.33 1071.55,957.12 1073.7,964.2C1075.85,971.28 1078.97,980.63 1081.6,986.4C1084.23,992.17 1086.53,994.75 1089.5,998.8C1092.47,1002.85 1095.27,1007.07 1099.4,1010.7C1103.53,1014.33 1114.3,1020.6 1114.3,1020.6" fill="none" stroke="#225aaa" stroke-width="5.5" stroke-linejoin="round" stroke-linecap="round"/>
<path d="M1089.5,998.8C1089.5,998.8 1095.27,1007.07 1099.4,1010.7C1103.53,1014.33 1108.52,1017.97 1114.3,1020.6C1120.08,1023.23 1127.5,1025.1 1134.1,1026.5C1140.7,1027.9 1147.13,1028.42 1153.9,1029C1160.67,1029.58 1174.7,1030 1174.7,1030" fill="none" stroke="#225aaa" stroke-width="4.0" stroke-linejoin="round" stroke-linecap="round"/>
<path d="M951.9,929.7C951.9,929.7 1003.6,929.7 1003.6,929.7C1003.6,929.7 1006.52,907.27 1007.5,895.7C1008.48,884.13 1008.75,873.88 1009.5,860.3C1010.25,846.72 1011.15,828.72 1012,814.2C1012.85,799.68 1013.73,786.87 1014.6,773.2C1015.47,759.53 1016.35,745.87 1017.2,732.2C1018.05,718.53 1018.77,703.5 1019.7,691.2C1020.63,678.9 1022.8,658.4 1022.8,658.4C1022.8,658.4 1028.7,697.68 1031,711.7C1033.3,725.72 1034.9,732.25 1036.6,742.5C1038.3,752.75 1039.57,761.25 1041.2,773.2C1042.83,785.15 1044.52,799.68 1046.4,814.2C1048.28,828.72 1050.85,849.33 1052.5,860.3C1054.15,871.27 1055.17,873.42 1056.3,880C1057.43,886.58 1058.05,893.2 1059.3,899.8C1060.55,906.4 1062.23,912.25 1063.8,919.6C1065.37,926.95 1067.05,936.47 1068.7,943.9C1070.35,951.33 1071.55,957.12 1073.7,964.2C1075.85,971.28 1078.97,980.63 1081.6,986.4C1084.23,992.17 1086.53,994.75 1089.5,998.8C1092.47,1002.85 1095.27,1007.07 1099.4,1010.7C1103.53,1014.33 1108.52,1017.97 1114.3,1020.6C1120.08,1023.23 1127.5,1025.1 1134.1,1026.5C1140.7,1027.9 1147.13,1028.42 1153.9,1029C1160.67,1029.58 1106.87,1029.83 1174.7,1030C1242.53,1030.17 1560.9,1030 1560.9,1030" fill="none" stroke="#b0245e" stroke-width="3.3" stroke-linejoin="round" stroke-linecap="butt"/>
<rect x="923.3" y="633.3" width="668.8" height="415.1" fill="none" stroke="#2b2b2b" stroke-width="1.8"/>
<line x1="934.09" y1="1048.4" x2="934.09" y2="1042.9" stroke="#2b2b2b" stroke-width="2.0"/>
<line x1="934.09" y1="633.3" x2="934.09" y2="638.8" stroke="#2b2b2b" stroke-width="2.0"/>
<line x1="1014.1" y1="1048.4" x2="1014.1" y2="1042.9" stroke="#2b2b2b" stroke-width="2.0"/>
<line x1="1014.1" y1="633.3" x2="1014.1" y2="638.8" stroke="#2b2b2b" stroke-width="2.0"/>
<line x1="1094.11" y1="1048.4" x2="1094.11" y2="1042.9" stroke="#2b2b2b" stroke-width="2.0"/>
<line x1="1094.11" y1="633.3" x2="1094.11" y2="638.8" stroke="#2b2b2b" stroke-width="2.0"/>
<line x1="1174.13" y1="1048.4" x2="1174.13" y2="1042.9" stroke="#2b2b2b" stroke-width="2.0"/>
<line x1="1174.13" y1="633.3" x2="1174.13" y2="638.8" stroke="#2b2b2b" stroke-width="2.0"/>
<line x1="1254.14" y1="1048.4" x2="1254.14" y2="1042.9" stroke="#2b2b2b" stroke-width="2.0"/>
<line x1="1254.14" y1="633.3" x2="1254.14" y2="638.8" stroke="#2b2b2b" stroke-width="2.0"/>
<line x1="1334.16" y1="1048.4" x2="1334.16" y2="1042.9" stroke="#2b2b2b" stroke-width="2.0"/>
<line x1="1334.16" y1="633.3" x2="1334.16" y2="638.8" stroke="#2b2b2b" stroke-width="2.0"/>
<line x1="1414.17" y1="1048.4" x2="1414.17" y2="1042.9" stroke="#2b2b2b" stroke-width="2.0"/>
<line x1="1414.17" y1="633.3" x2="1414.17" y2="638.8" stroke="#2b2b2b" stroke-width="2.0"/>
<line x1="1494.19" y1="1048.4" x2="1494.19" y2="1042.9" stroke="#2b2b2b" stroke-width="2.0"/>
<line x1="1494.19" y1="633.3" x2="1494.19" y2="638.8" stroke="#2b2b2b" stroke-width="2.0"/>
<line x1="1574.2" y1="1048.4" x2="1574.2" y2="1042.9" stroke="#2b2b2b" stroke-width="2.0"/>
<line x1="1574.2" y1="633.3" x2="1574.2" y2="638.8" stroke="#2b2b2b" stroke-width="2.0"/>
<line x1="923.3" y1="1030.3" x2="928.8" y2="1030.3" stroke="#2b2b2b" stroke-width="2.0"/>
<line x1="1592.1" y1="1030.3" x2="1586.6" y2="1030.3" stroke="#2b2b2b" stroke-width="2.0"/>
<line x1="923.3" y1="986.93" x2="928.8" y2="986.93" stroke="#2b2b2b" stroke-width="2.0"/>
<line x1="1592.1" y1="986.93" x2="1586.6" y2="986.93" stroke="#2b2b2b" stroke-width="2.0"/>
<line x1="923.3" y1="943.57" x2="928.8" y2="943.57" stroke="#2b2b2b" stroke-width="2.0"/>
<line x1="1592.1" y1="943.57" x2="1586.6" y2="943.57" stroke="#2b2b2b" stroke-width="2.0"/>
<line x1="923.3" y1="900.2" x2="928.8" y2="900.2" stroke="#2b2b2b" stroke-width="2.0"/>
<line x1="1592.1" y1="900.2" x2="1586.6" y2="900.2" stroke="#2b2b2b" stroke-width="2.0"/>
<line x1="923.3" y1="856.83" x2="928.8" y2="856.83" stroke="#2b2b2b" stroke-width="2.0"/>
<line x1="1592.1" y1="856.83" x2="1586.6" y2="856.83" stroke="#2b2b2b" stroke-width="2.0"/>
<line x1="923.3" y1="813.47" x2="928.8" y2="813.47" stroke="#2b2b2b" stroke-width="2.0"/>
<line x1="1592.1" y1="813.47" x2="1586.6" y2="813.47" stroke="#2b2b2b" stroke-width="2.0"/>
<line x1="923.3" y1="770.1" x2="928.8" y2="770.1" stroke="#2b2b2b" stroke-width="2.0"/>
<line x1="1592.1" y1="770.1" x2="1586.6" y2="770.1" stroke="#2b2b2b" stroke-width="2.0"/>
<line x1="923.3" y1="726.73" x2="928.8" y2="726.73" stroke="#2b2b2b" stroke-width="2.0"/>
<line x1="1592.1" y1="726.73" x2="1586.6" y2="726.73" stroke="#2b2b2b" stroke-width="2.0"/>
<line x1="923.3" y1="683.37" x2="928.8" y2="683.37" stroke="#2b2b2b" stroke-width="2.0"/>
<line x1="1592.1" y1="683.37" x2="1586.6" y2="683.37" stroke="#2b2b2b" stroke-width="2.0"/>
<line x1="923.3" y1="640" x2="928.8" y2="640" stroke="#2b2b2b" stroke-width="2.0"/>
<line x1="1592.1" y1="640" x2="1586.6" y2="640" stroke="#2b2b2b" stroke-width="2.0"/>
<text x="903.5" y="1041.5" font-size="17.5" textLength="9.73" lengthAdjust="spacingAndGlyphs">0</text>
<text x="889.06" y="997.73" font-size="17.5" textLength="24.33" lengthAdjust="spacingAndGlyphs">0.1</text>
<text x="889.15" y="953.97" font-size="17.5" textLength="24.33" lengthAdjust="spacingAndGlyphs">0.2</text>
<text x="888.98" y="910.2" font-size="17.5" textLength="24.33" lengthAdjust="spacingAndGlyphs">0.3</text>
<text x="888.8" y="866.43" font-size="17.5" textLength="24.33" lengthAdjust="spacingAndGlyphs">0.4</text>
<text x="888.98" y="822.67" font-size="17.5" textLength="24.33" lengthAdjust="spacingAndGlyphs">0.5</text>
<text x="888.98" y="778.9" font-size="17.5" textLength="24.33" lengthAdjust="spacingAndGlyphs">0.6</text>
<text x="889.15" y="735.13" font-size="17.5" textLength="24.33" lengthAdjust="spacingAndGlyphs">0.7</text>
<text x="888.98" y="691.37" font-size="17.5" textLength="24.33" lengthAdjust="spacingAndGlyphs">0.8</text>
<text x="889.06" y="647.6" font-size="17.5" textLength="24.33" lengthAdjust="spacingAndGlyphs">0.9</text>
<text x="892.3" y="1074.7" font-size="21.6" textLength="55.25" lengthAdjust="spacingAndGlyphs">-1000</text>
<text x="1008.25" y="1074.7" font-size="21.6" textLength="12.01" lengthAdjust="spacingAndGlyphs">0</text>
<text x="1056.04" y="1074.7" font-size="21.6" textLength="48.05" lengthAdjust="spacingAndGlyphs">1000</text>
<text x="1140.31" y="1074.7" font-size="21.6" textLength="48.05" lengthAdjust="spacingAndGlyphs">2000</text>
<text x="1231.22" y="1074.7" font-size="21.6" textLength="48.05" lengthAdjust="spacingAndGlyphs">3000</text>
<text x="1315.33" y="1074.7" font-size="21.6" textLength="48.05" lengthAdjust="spacingAndGlyphs">4000</text>
<text x="1394.12" y="1074.7" font-size="21.6" textLength="48.05" lengthAdjust="spacingAndGlyphs">5000</text>
<text x="1465.51" y="1074.7" font-size="21.6" textLength="48.05" lengthAdjust="spacingAndGlyphs">6000</text>
<text x="1538.01" y="1074.7" font-size="21.6" textLength="48.05" lengthAdjust="spacingAndGlyphs">7000</text>
<text x="854.49" y="619.2" font-size="51.45" font-weight="bold" textLength="33.47" lengthAdjust="spacingAndGlyphs" style="fill:#000;stroke:#000;stroke-width:1.2px;stroke-linejoin:round">D</text>
<text x="1133.3" y="614" font-size="34.93" textLength="258.97" lengthAdjust="spacingAndGlyphs">Artemisia ketone</text>
<text x="1171.58" y="1111.2" font-size="26.38" textLength="177.85" lengthAdjust="spacingAndGlyphs">Elevation (m)</text>
<text x="-907.34" y="880.2" font-size="25.51" textLength="172.88" lengthAdjust="spacingAndGlyphs" transform="rotate(-90)">Logistic output</text>
<line x1="112.56" y1="1198.8" x2="112.56" y2="1610.3" stroke="#d8d8d8" stroke-width="1.5"/>
<line x1="165.2" y1="1198.8" x2="165.2" y2="1610.3" stroke="#d8d8d8" stroke-width="1.5"/>
<line x1="217.84" y1="1198.8" x2="217.84" y2="1610.3" stroke="#d8d8d8" stroke-width="1.5"/>
<line x1="270.48" y1="1198.8" x2="270.48" y2="1610.3" stroke="#d8d8d8" stroke-width="1.5"/>
<line x1="323.12" y1="1198.8" x2="323.12" y2="1610.3" stroke="#d8d8d8" stroke-width="1.5"/>
<line x1="375.76" y1="1198.8" x2="375.76" y2="1610.3" stroke="#d8d8d8" stroke-width="1.5"/>
<line x1="428.4" y1="1198.8" x2="428.4" y2="1610.3" stroke="#d8d8d8" stroke-width="1.5"/>
<line x1="481.04" y1="1198.8" x2="481.04" y2="1610.3" stroke="#d8d8d8" stroke-width="1.5"/>
<line x1="533.68" y1="1198.8" x2="533.68" y2="1610.3" stroke="#d8d8d8" stroke-width="1.5"/>
<line x1="586.32" y1="1198.8" x2="586.32" y2="1610.3" stroke="#d8d8d8" stroke-width="1.5"/>
<line x1="638.96" y1="1198.8" x2="638.96" y2="1610.3" stroke="#d8d8d8" stroke-width="1.5"/>
<line x1="691.6" y1="1198.8" x2="691.6" y2="1610.3" stroke="#d8d8d8" stroke-width="1.5"/>
<line x1="744.24" y1="1198.8" x2="744.24" y2="1610.3" stroke="#d8d8d8" stroke-width="1.5"/>
<line x1="84.8" y1="1592.1" x2="749.3" y2="1592.1" stroke="#cdcdcd" stroke-width="1.7"/>
<line x1="84.8" y1="1554.74" x2="749.3" y2="1554.74" stroke="#cdcdcd" stroke-width="1.7"/>
<line x1="84.8" y1="1517.38" x2="749.3" y2="1517.38" stroke="#cdcdcd" stroke-width="1.7"/>
<line x1="84.8" y1="1480.02" x2="749.3" y2="1480.02" stroke="#cdcdcd" stroke-width="1.7"/>
<line x1="84.8" y1="1442.66" x2="749.3" y2="1442.66" stroke="#cdcdcd" stroke-width="1.7"/>
<line x1="84.8" y1="1405.3" x2="749.3" y2="1405.3" stroke="#cdcdcd" stroke-width="1.7"/>
<line x1="84.8" y1="1367.94" x2="749.3" y2="1367.94" stroke="#cdcdcd" stroke-width="1.7"/>
<line x1="84.8" y1="1330.58" x2="749.3" y2="1330.58" stroke="#cdcdcd" stroke-width="1.7"/>
<line x1="84.8" y1="1293.22" x2="749.3" y2="1293.22" stroke="#cdcdcd" stroke-width="1.7"/>
<line x1="84.8" y1="1255.86" x2="749.3" y2="1255.86" stroke="#cdcdcd" stroke-width="1.7"/>
<line x1="84.8" y1="1218.5" x2="749.3" y2="1218.5" stroke="#cdcdcd" stroke-width="1.7"/>
<path d="M208.9,1450C208.35,1445.87 210.65,1433.5 211.2,1425.2C211.75,1416.9 210.88,1407.15 212.2,1400.2C213.52,1393.25 216.25,1390.15 219.1,1383.5C221.95,1376.85 227.13,1365.55 229.3,1360.3C231.47,1355.05 229.62,1356.17 232.1,1352C234.58,1347.83 240.95,1340.42 244.2,1335.3C247.45,1330.18 248.97,1324.25 251.6,1321.3C254.23,1318.35 256.93,1318.62 260,1317.6C263.07,1316.58 266.15,1316.9 270,1315.2C273.85,1313.5 277.85,1310.87 283.1,1307.4C288.35,1303.93 294.75,1299.37 301.5,1294.4C308.25,1289.43 314.83,1283.92 323.6,1277.6C332.37,1271.28 345.33,1262.47 354.1,1256.5C362.87,1250.53 369.18,1246.18 376.2,1241.8C383.22,1237.42 389.32,1234.02 396.2,1230.2C403.08,1226.38 417.5,1218.9 417.5,1218.9L719.7,1218.9L719.7,1345.9C719.7,1345.9 685.27,1348.9 662.1,1345.9C638.93,1342.9 603.95,1333.57 580.7,1327.9C557.45,1322.23 539.55,1315.88 522.6,1311.9C505.65,1307.92 492.77,1305.95 479,1304C465.23,1302.05 453.17,1300.8 440,1300.2C426.83,1299.6 410.63,1300.32 400,1300.4C389.37,1300.48 383.85,1300.3 376.2,1300.7C368.55,1301.1 362.87,1301.92 354.1,1302.8C345.33,1303.68 332.37,1304.88 323.6,1306C314.83,1307.12 307.93,1308 301.5,1309.5C295.07,1311 290.25,1313.13 285,1315C279.75,1316.87 273.83,1319.12 270,1320.7C266.17,1322.28 264.6,1322.85 262,1324.5C259.4,1326.15 256.9,1326.95 254.4,1330.6C251.9,1334.25 250.1,1339.75 247,1346.4C243.9,1353.05 238.9,1363.85 235.8,1370.5C232.7,1377.15 231.03,1378.72 228.4,1386.3C225.77,1393.88 222.02,1407.97 220,1416C217.98,1424.03 217.22,1428.83 216.3,1434.5C215.38,1440.17 214.5,1450 214.5,1450C214.5,1450 209.45,1454.13 208.9,1450Z" fill="#225aaa"/>
<path d="M200,1555C200,1555 203.12,1537.77 204.3,1528.6C205.48,1519.43 206.15,1510.72 207.1,1500C208.05,1489.28 209.23,1472.63 210,1464.3C210.77,1455.97 211.7,1450 211.7,1450" fill="none" stroke="#225aaa" stroke-width="5.0" stroke-linejoin="round" stroke-linecap="round"/>
<path d="M114.3,1592.1C114.3,1592.1 153.58,1592.45 164.3,1592.1C175.02,1591.75 174.55,1591.3 178.6,1590C182.65,1588.7 185.75,1587.4 188.6,1584.3C191.45,1581.2 193.8,1576.28 195.7,1571.4C197.6,1566.52 198.57,1562.13 200,1555C201.43,1547.87 203.12,1537.77 204.3,1528.6C205.48,1519.43 206.15,1510.72 207.1,1500C208.05,1489.28 209.23,1472.63 210,1464.3C210.77,1455.97 211.18,1457.28 211.7,1450C212.22,1442.72 212.4,1427.82 213.1,1420.6C213.8,1413.38 214.43,1412.12 215.9,1406.7C217.37,1401.28 219.5,1394.6 221.9,1388.1C224.3,1381.6 227.52,1373.57 230.3,1367.7C233.08,1361.83 235.82,1357.68 238.6,1352.9C241.38,1348.12 244.53,1343.33 247,1339C249.47,1334.67 250.47,1330 253.4,1326.9C256.33,1323.8 260.42,1322.77 264.6,1320.4C268.78,1318.03 272.35,1316.17 278.5,1312.7C284.65,1309.23 293.98,1303.7 301.5,1299.6C309.02,1295.5 314.83,1291.77 323.6,1288.1C332.37,1284.43 345.33,1280.58 354.1,1277.6C362.87,1274.62 369.18,1272.32 376.2,1270.2C383.22,1268.08 385.57,1267.53 396.2,1264.9C406.83,1262.27 428.63,1256.88 440,1254.4C451.37,1251.92 454.52,1251.22 464.4,1250C474.28,1248.78 489.6,1247.83 499.3,1247.1C509,1246.37 511.45,1245.8 522.6,1245.6C533.75,1245.4 556.52,1245.6 566.2,1245.9C575.88,1246.2 573.43,1246.92 580.7,1247.4C587.97,1247.88 596.72,1248.08 609.8,1248.8C622.88,1249.52 640.88,1251.22 659.2,1251.7C677.52,1252.18 719.7,1251.7 719.7,1251.7" fill="none" stroke="#b0245e" stroke-width="3.3" stroke-linejoin="round" stroke-linecap="butt"/>
<rect x="84.8" y="1198.8" width="664.5" height="411.5" fill="none" stroke="#2b2b2b" stroke-width="1.8"/>
<line x1="112.56" y1="1610.3" x2="112.56" y2="1604.8" stroke="#2b2b2b" stroke-width="2.0"/>
<line x1="112.56" y1="1198.8" x2="112.56" y2="1204.3" stroke="#2b2b2b" stroke-width="2.0"/>
<line x1="165.2" y1="1610.3" x2="165.2" y2="1604.8" stroke="#2b2b2b" stroke-width="2.0"/>
<line x1="165.2" y1="1198.8" x2="165.2" y2="1204.3" stroke="#2b2b2b" stroke-width="2.0"/>
<line x1="217.84" y1="1610.3" x2="217.84" y2="1604.8" stroke="#2b2b2b" stroke-width="2.0"/>
<line x1="217.84" y1="1198.8" x2="217.84" y2="1204.3" stroke="#2b2b2b" stroke-width="2.0"/>
<line x1="270.48" y1="1610.3" x2="270.48" y2="1604.8" stroke="#2b2b2b" stroke-width="2.0"/>
<line x1="270.48" y1="1198.8" x2="270.48" y2="1204.3" stroke="#2b2b2b" stroke-width="2.0"/>
<line x1="323.12" y1="1610.3" x2="323.12" y2="1604.8" stroke="#2b2b2b" stroke-width="2.0"/>
<line x1="323.12" y1="1198.8" x2="323.12" y2="1204.3" stroke="#2b2b2b" stroke-width="2.0"/>
<line x1="375.76" y1="1610.3" x2="375.76" y2="1604.8" stroke="#2b2b2b" stroke-width="2.0"/>
<line x1="375.76" y1="1198.8" x2="375.76" y2="1204.3" stroke="#2b2b2b" stroke-width="2.0"/>
<line x1="428.4" y1="1610.3" x2="428.4" y2="1604.8" stroke="#2b2b2b" stroke-width="2.0"/>
<line x1="428.4" y1="1198.8" x2="428.4" y2="1204.3" stroke="#2b2b2b" stroke-width="2.0"/>
<line x1="481.04" y1="1610.3" x2="481.04" y2="1604.8" stroke="#2b2b2b" stroke-width="2.0"/>
<line x1="481.04" y1="1198.8" x2="481.04" y2="1204.3" stroke="#2b2b2b" stroke-width="2.0"/>
<line x1="533.68" y1="1610.3" x2="533.68" y2="1604.8" stroke="#2b2b2b" stroke-width="2.0"/>
<line x1="533.68" y1="1198.8" x2="533.68" y2="1204.3" stroke="#2b2b2b" stroke-width="2.0"/>
<line x1="586.32" y1="1610.3" x2="586.32" y2="1604.8" stroke="#2b2b2b" stroke-width="2.0"/>
<line x1="586.32" y1="1198.8" x2="586.32" y2="1204.3" stroke="#2b2b2b" stroke-width="2.0"/>
<line x1="638.96" y1="1610.3" x2="638.96" y2="1604.8" stroke="#2b2b2b" stroke-width="2.0"/>
<line x1="638.96" y1="1198.8" x2="638.96" y2="1204.3" stroke="#2b2b2b" stroke-width="2.0"/>
<line x1="691.6" y1="1610.3" x2="691.6" y2="1604.8" stroke="#2b2b2b" stroke-width="2.0"/>
<line x1="691.6" y1="1198.8" x2="691.6" y2="1204.3" stroke="#2b2b2b" stroke-width="2.0"/>
<line x1="744.24" y1="1610.3" x2="744.24" y2="1604.8" stroke="#2b2b2b" stroke-width="2.0"/>
<line x1="744.24" y1="1198.8" x2="744.24" y2="1204.3" stroke="#2b2b2b" stroke-width="2.0"/>
<line x1="84.8" y1="1592.1" x2="90.3" y2="1592.1" stroke="#2b2b2b" stroke-width="2.0"/>
<line x1="749.3" y1="1592.1" x2="743.8" y2="1592.1" stroke="#2b2b2b" stroke-width="2.0"/>
<line x1="84.8" y1="1554.74" x2="90.3" y2="1554.74" stroke="#2b2b2b" stroke-width="2.0"/>
<line x1="749.3" y1="1554.74" x2="743.8" y2="1554.74" stroke="#2b2b2b" stroke-width="2.0"/>
<line x1="84.8" y1="1517.38" x2="90.3" y2="1517.38" stroke="#2b2b2b" stroke-width="2.0"/>
<line x1="749.3" y1="1517.38" x2="743.8" y2="1517.38" stroke="#2b2b2b" stroke-width="2.0"/>
<line x1="84.8" y1="1480.02" x2="90.3" y2="1480.02" stroke="#2b2b2b" stroke-width="2.0"/>
<line x1="749.3" y1="1480.02" x2="743.8" y2="1480.02" stroke="#2b2b2b" stroke-width="2.0"/>
<line x1="84.8" y1="1442.66" x2="90.3" y2="1442.66" stroke="#2b2b2b" stroke-width="2.0"/>
<line x1="749.3" y1="1442.66" x2="743.8" y2="1442.66" stroke="#2b2b2b" stroke-width="2.0"/>
<line x1="84.8" y1="1405.3" x2="90.3" y2="1405.3" stroke="#2b2b2b" stroke-width="2.0"/>
<line x1="749.3" y1="1405.3" x2="743.8" y2="1405.3" stroke="#2b2b2b" stroke-width="2.0"/>
<line x1="84.8" y1="1367.94" x2="90.3" y2="1367.94" stroke="#2b2b2b" stroke-width="2.0"/>
<line x1="749.3" y1="1367.94" x2="743.8" y2="1367.94" stroke="#2b2b2b" stroke-width="2.0"/>
<line x1="84.8" y1="1330.58" x2="90.3" y2="1330.58" stroke="#2b2b2b" stroke-width="2.0"/>
<line x1="749.3" y1="1330.58" x2="743.8" y2="1330.58" stroke="#2b2b2b" stroke-width="2.0"/>
<line x1="84.8" y1="1293.22" x2="90.3" y2="1293.22" stroke="#2b2b2b" stroke-width="2.0"/>
<line x1="749.3" y1="1293.22" x2="743.8" y2="1293.22" stroke="#2b2b2b" stroke-width="2.0"/>
<line x1="84.8" y1="1255.86" x2="90.3" y2="1255.86" stroke="#2b2b2b" stroke-width="2.0"/>
<line x1="749.3" y1="1255.86" x2="743.8" y2="1255.86" stroke="#2b2b2b" stroke-width="2.0"/>
<line x1="84.8" y1="1218.5" x2="90.3" y2="1218.5" stroke="#2b2b2b" stroke-width="2.0"/>
<line x1="749.3" y1="1218.5" x2="743.8" y2="1218.5" stroke="#2b2b2b" stroke-width="2.0"/>
<text x="72.6" y="1596.6" font-size="15" textLength="8.34" lengthAdjust="spacingAndGlyphs">0</text>
<text x="60.23" y="1559.24" font-size="15" textLength="20.85" lengthAdjust="spacingAndGlyphs">0.1</text>
<text x="60.3" y="1521.88" font-size="15" textLength="20.85" lengthAdjust="spacingAndGlyphs">0.2</text>
<text x="60.15" y="1484.52" font-size="15" textLength="20.85" lengthAdjust="spacingAndGlyphs">0.3</text>
<text x="60" y="1447.16" font-size="15" textLength="20.85" lengthAdjust="spacingAndGlyphs">0.4</text>
<text x="60.15" y="1409.8" font-size="15" textLength="20.85" lengthAdjust="spacingAndGlyphs">0.5</text>
<text x="60.15" y="1372.44" font-size="15" textLength="20.85" lengthAdjust="spacingAndGlyphs">0.6</text>
<text x="60.3" y="1335.08" font-size="15" textLength="20.85" lengthAdjust="spacingAndGlyphs">0.7</text>
<text x="60.15" y="1297.72" font-size="15" textLength="20.85" lengthAdjust="spacingAndGlyphs">0.8</text>
<text x="60.23" y="1260.36" font-size="15" textLength="20.85" lengthAdjust="spacingAndGlyphs">0.9</text>
<text x="60.08" y="1223" font-size="15" textLength="20.85" lengthAdjust="spacingAndGlyphs">1.0</text>
<text x="95.17" y="1631.4" font-size="21.9" textLength="31.65" lengthAdjust="spacingAndGlyphs">-20</text>
<text x="157.07" y="1631.4" font-size="21.9" textLength="12.18" lengthAdjust="spacingAndGlyphs">0</text>
<text x="204.78" y="1631.4" font-size="21.9" textLength="24.36" lengthAdjust="spacingAndGlyphs">20</text>
<text x="258.91" y="1631.4" font-size="21.9" textLength="24.36" lengthAdjust="spacingAndGlyphs">40</text>
<text x="312.38" y="1631.4" font-size="21.9" textLength="24.36" lengthAdjust="spacingAndGlyphs">60</text>
<text x="361.44" y="1631.4" font-size="21.9" textLength="24.36" lengthAdjust="spacingAndGlyphs">80</text>
<text x="409.93" y="1631.4" font-size="21.9" textLength="36.54" lengthAdjust="spacingAndGlyphs">100</text>
<text x="463.73" y="1631.4" font-size="21.9" textLength="36.54" lengthAdjust="spacingAndGlyphs">120</text>
<text x="512.93" y="1631.4" font-size="21.9" textLength="36.54" lengthAdjust="spacingAndGlyphs">140</text>
<text x="566.93" y="1631.4" font-size="21.9" textLength="36.54" lengthAdjust="spacingAndGlyphs">160</text>
<text x="621.43" y="1631.4" font-size="21.9" textLength="36.54" lengthAdjust="spacingAndGlyphs">180</text>
<text x="668.5" y="1631.4" font-size="21.9" textLength="36.54" lengthAdjust="spacingAndGlyphs">200</text>
<text x="722.5" y="1631.4" font-size="21.9" textLength="36.54" lengthAdjust="spacingAndGlyphs">220</text>
<text x="7.54" y="1196.8" font-size="51.74" font-weight="bold" textLength="29.4" lengthAdjust="spacingAndGlyphs" style="fill:#000;stroke:#000;stroke-width:1.2px;stroke-linejoin:round">E</text>
<text x="308.53" y="1186.7" font-size="33.8" textLength="159.86" lengthAdjust="spacingAndGlyphs">Eucalyptol</text>
<text x="71.36" y="1661.8" font-size="27.59" textLength="698.23" lengthAdjust="spacingAndGlyphs" transform="rotate(-0.18 420.5 1661.8)">bio_14 the maximum driest month precipitation (mm)</text>
<text x="-1480.34" y="42.4" font-size="26.52" textLength="172.58" lengthAdjust="spacingAndGlyphs" transform="rotate(-90)">Logistic output</text>
<line x1="917.34" y1="1202" x2="917.34" y2="1600.6" stroke="#d8d8d8" stroke-width="1.5"/>
<line x1="1001.6" y1="1202" x2="1001.6" y2="1600.6" stroke="#d8d8d8" stroke-width="1.5"/>
<line x1="1085.86" y1="1202" x2="1085.86" y2="1600.6" stroke="#d8d8d8" stroke-width="1.5"/>
<line x1="1170.11" y1="1202" x2="1170.11" y2="1600.6" stroke="#d8d8d8" stroke-width="1.5"/>
<line x1="1254.37" y1="1202" x2="1254.37" y2="1600.6" stroke="#d8d8d8" stroke-width="1.5"/>
<line x1="1338.63" y1="1202" x2="1338.63" y2="1600.6" stroke="#d8d8d8" stroke-width="1.5"/>
<line x1="1422.89" y1="1202" x2="1422.89" y2="1600.6" stroke="#d8d8d8" stroke-width="1.5"/>
<line x1="1507.14" y1="1202" x2="1507.14" y2="1600.6" stroke="#d8d8d8" stroke-width="1.5"/>
<line x1="1591.4" y1="1202" x2="1591.4" y2="1600.6" stroke="#d8d8d8" stroke-width="1.5"/>
<line x1="913.9" y1="1583.6" x2="1599" y2="1583.6" stroke="#cdcdcd" stroke-width="1.7"/>
<line x1="913.9" y1="1542.59" x2="1599" y2="1542.59" stroke="#cdcdcd" stroke-width="1.7"/>
<line x1="913.9" y1="1501.58" x2="1599" y2="1501.58" stroke="#cdcdcd" stroke-width="1.7"/>
<line x1="913.9" y1="1460.57" x2="1599" y2="1460.57" stroke="#cdcdcd" stroke-width="1.7"/>
<line x1="913.9" y1="1419.56" x2="1599" y2="1419.56" stroke="#cdcdcd" stroke-width="1.7"/>
<line x1="913.9" y1="1378.54" x2="1599" y2="1378.54" stroke="#cdcdcd" stroke-width="1.7"/>
<line x1="913.9" y1="1337.53" x2="1599" y2="1337.53" stroke="#cdcdcd" stroke-width="1.7"/>
<line x1="913.9" y1="1296.52" x2="1599" y2="1296.52" stroke="#cdcdcd" stroke-width="1.7"/>
<line x1="913.9" y1="1255.51" x2="1599" y2="1255.51" stroke="#cdcdcd" stroke-width="1.7"/>
<line x1="913.9" y1="1214.5" x2="1599" y2="1214.5" stroke="#cdcdcd" stroke-width="1.7"/>
<path d="M943.1,1470L995,1470C995,1470 995.9,1461.67 996.5,1460C997.1,1458.33 998.32,1455 998.6,1460C998.88,1465 998.32,1482.5 998.2,1490C998.08,1497.5 998.07,1501.78 997.9,1505C997.73,1508.22 997.2,1509.3 997.2,1509.3L943.1,1509.3L943.1,1470Z" fill="#225aaa"/>
<path d="M995,1490.3C995,1490.3 996.38,1471.75 997.1,1460C997.82,1448.25 998.6,1433.37 999.3,1419.8C1000,1406.23 1000.73,1392.32 1001.3,1378.6C1001.87,1364.88 1002.22,1350.9 1002.7,1337.5C1003.18,1324.1 1003.53,1311.28 1004.2,1298.2C1004.87,1285.12 1005.88,1271.82 1006.7,1259C1007.52,1246.18 1009.1,1221.3 1009.1,1221.3C1009.1,1221.3 1013.63,1243.1 1016,1255.6C1018.37,1268.1 1020.93,1282.65 1023.3,1296.3C1025.67,1309.95 1028.07,1323.78 1030.2,1337.5C1032.33,1351.22 1033.65,1364.88 1036.1,1378.6C1038.55,1392.32 1042.77,1409.57 1044.9,1419.8C1047.03,1430.03 1047.4,1433.25 1048.9,1440C1050.4,1446.75 1052.08,1453.37 1053.9,1460.3C1055.72,1467.23 1057.92,1474.67 1059.8,1481.6C1061.68,1488.53 1063.22,1495.63 1065.2,1501.9C1067.18,1508.17 1068.97,1512.43 1071.7,1519.2C1074.43,1525.97 1078.3,1536.4 1081.6,1542.5C1084.9,1548.6 1087.7,1551.77 1091.5,1555.8C1095.3,1559.83 1104.4,1566.7 1104.4,1566.7" fill="none" stroke="#225aaa" stroke-width="4.6" stroke-linejoin="round" stroke-linecap="round"/>
<path d="M1081.6,1542.5C1081.6,1542.5 1087.7,1551.77 1091.5,1555.8C1095.3,1559.83 1099.78,1563.55 1104.4,1566.7C1109.02,1569.85 1113.43,1572.55 1119.2,1574.7C1124.97,1576.85 1130.58,1578.28 1139,1579.6C1147.42,1580.92 1169.7,1582.6 1169.7,1582.6" fill="none" stroke="#225aaa" stroke-width="3.6" stroke-linejoin="round" stroke-linecap="round"/>
<path d="M944.3,1490.3C944.3,1490.3 995,1490.3 995,1490.3C995,1490.3 996.38,1471.75 997.1,1460C997.82,1448.25 998.6,1433.37 999.3,1419.8C1000,1406.23 1000.73,1392.32 1001.3,1378.6C1001.87,1364.88 1002.22,1350.9 1002.7,1337.5C1003.18,1324.1 1003.53,1311.28 1004.2,1298.2C1004.87,1285.12 1005.88,1271.82 1006.7,1259C1007.52,1246.18 1009.1,1221.3 1009.1,1221.3C1009.1,1221.3 1013.63,1243.1 1016,1255.6C1018.37,1268.1 1020.93,1282.65 1023.3,1296.3C1025.67,1309.95 1028.07,1323.78 1030.2,1337.5C1032.33,1351.22 1033.65,1364.88 1036.1,1378.6C1038.55,1392.32 1042.77,1409.57 1044.9,1419.8C1047.03,1430.03 1047.4,1433.25 1048.9,1440C1050.4,1446.75 1052.08,1453.37 1053.9,1460.3C1055.72,1467.23 1057.92,1474.67 1059.8,1481.6C1061.68,1488.53 1063.22,1495.63 1065.2,1501.9C1067.18,1508.17 1068.97,1512.43 1071.7,1519.2C1074.43,1525.97 1078.3,1536.4 1081.6,1542.5C1084.9,1548.6 1087.7,1551.77 1091.5,1555.8C1095.3,1559.83 1099.78,1563.55 1104.4,1566.7C1109.02,1569.85 1113.43,1572.55 1119.2,1574.7C1124.97,1576.85 1130.58,1578.28 1139,1579.6C1147.42,1580.92 1159.53,1582 1169.7,1582.6C1179.87,1583.2 1133.85,1583.1 1200,1583.2C1266.15,1583.3 1566.6,1583.2 1566.6,1583.2" fill="none" stroke="#b0245e" stroke-width="3.3" stroke-linejoin="round" stroke-linecap="butt"/>
<rect x="913.9" y="1202" width="685.1" height="398.6" fill="none" stroke="#2b2b2b" stroke-width="1.8"/>
<line x1="917.34" y1="1600.6" x2="917.34" y2="1595.1" stroke="#2b2b2b" stroke-width="2.0"/>
<line x1="917.34" y1="1202" x2="917.34" y2="1207.5" stroke="#2b2b2b" stroke-width="2.0"/>
<line x1="1001.6" y1="1600.6" x2="1001.6" y2="1595.1" stroke="#2b2b2b" stroke-width="2.0"/>
<line x1="1001.6" y1="1202" x2="1001.6" y2="1207.5" stroke="#2b2b2b" stroke-width="2.0"/>
<line x1="1085.86" y1="1600.6" x2="1085.86" y2="1595.1" stroke="#2b2b2b" stroke-width="2.0"/>
<line x1="1085.86" y1="1202" x2="1085.86" y2="1207.5" stroke="#2b2b2b" stroke-width="2.0"/>
<line x1="1170.11" y1="1600.6" x2="1170.11" y2="1595.1" stroke="#2b2b2b" stroke-width="2.0"/>
<line x1="1170.11" y1="1202" x2="1170.11" y2="1207.5" stroke="#2b2b2b" stroke-width="2.0"/>
<line x1="1254.37" y1="1600.6" x2="1254.37" y2="1595.1" stroke="#2b2b2b" stroke-width="2.0"/>
<line x1="1254.37" y1="1202" x2="1254.37" y2="1207.5" stroke="#2b2b2b" stroke-width="2.0"/>
<line x1="1338.63" y1="1600.6" x2="1338.63" y2="1595.1" stroke="#2b2b2b" stroke-width="2.0"/>
<line x1="1338.63" y1="1202" x2="1338.63" y2="1207.5" stroke="#2b2b2b" stroke-width="2.0"/>
<line x1="1422.89" y1="1600.6" x2="1422.89" y2="1595.1" stroke="#2b2b2b" stroke-width="2.0"/>
<line x1="1422.89" y1="1202" x2="1422.89" y2="1207.5" stroke="#2b2b2b" stroke-width="2.0"/>
<line x1="1507.14" y1="1600.6" x2="1507.14" y2="1595.1" stroke="#2b2b2b" stroke-width="2.0"/>
<line x1="1507.14" y1="1202" x2="1507.14" y2="1207.5" stroke="#2b2b2b" stroke-width="2.0"/>
<line x1="1591.4" y1="1600.6" x2="1591.4" y2="1595.1" stroke="#2b2b2b" stroke-width="2.0"/>
<line x1="1591.4" y1="1202" x2="1591.4" y2="1207.5" stroke="#2b2b2b" stroke-width="2.0"/>
<line x1="913.9" y1="1583.6" x2="919.4" y2="1583.6" stroke="#2b2b2b" stroke-width="2.0"/>
<line x1="1599" y1="1583.6" x2="1593.5" y2="1583.6" stroke="#2b2b2b" stroke-width="2.0"/>
<line x1="913.9" y1="1542.59" x2="919.4" y2="1542.59" stroke="#2b2b2b" stroke-width="2.0"/>
<line x1="1599" y1="1542.59" x2="1593.5" y2="1542.59" stroke="#2b2b2b" stroke-width="2.0"/>
<line x1="913.9" y1="1501.58" x2="919.4" y2="1501.58" stroke="#2b2b2b" stroke-width="2.0"/>
<line x1="1599" y1="1501.58" x2="1593.5" y2="1501.58" stroke="#2b2b2b" stroke-width="2.0"/>
<line x1="913.9" y1="1460.57" x2="919.4" y2="1460.57" stroke="#2b2b2b" stroke-width="2.0"/>
<line x1="1599" y1="1460.57" x2="1593.5" y2="1460.57" stroke="#2b2b2b" stroke-width="2.0"/>
<line x1="913.9" y1="1419.56" x2="919.4" y2="1419.56" stroke="#2b2b2b" stroke-width="2.0"/>
<line x1="1599" y1="1419.56" x2="1593.5" y2="1419.56" stroke="#2b2b2b" stroke-width="2.0"/>
<line x1="913.9" y1="1378.54" x2="919.4" y2="1378.54" stroke="#2b2b2b" stroke-width="2.0"/>
<line x1="1599" y1="1378.54" x2="1593.5" y2="1378.54" stroke="#2b2b2b" stroke-width="2.0"/>
<line x1="913.9" y1="1337.53" x2="919.4" y2="1337.53" stroke="#2b2b2b" stroke-width="2.0"/>
<line x1="1599" y1="1337.53" x2="1593.5" y2="1337.53" stroke="#2b2b2b" stroke-width="2.0"/>
<line x1="913.9" y1="1296.52" x2="919.4" y2="1296.52" stroke="#2b2b2b" stroke-width="2.0"/>
<line x1="1599" y1="1296.52" x2="1593.5" y2="1296.52" stroke="#2b2b2b" stroke-width="2.0"/>
<line x1="913.9" y1="1255.51" x2="919.4" y2="1255.51" stroke="#2b2b2b" stroke-width="2.0"/>
<line x1="1599" y1="1255.51" x2="1593.5" y2="1255.51" stroke="#2b2b2b" stroke-width="2.0"/>
<line x1="913.9" y1="1214.5" x2="919.4" y2="1214.5" stroke="#2b2b2b" stroke-width="2.0"/>
<line x1="1599" y1="1214.5" x2="1593.5" y2="1214.5" stroke="#2b2b2b" stroke-width="2.0"/>
<text x="896.66" y="1589.6" font-size="17.2" textLength="9.57" lengthAdjust="spacingAndGlyphs">0</text>
<text x="882.47" y="1548.59" font-size="17.2" textLength="23.91" lengthAdjust="spacingAndGlyphs">0.1</text>
<text x="882.55" y="1507.58" font-size="17.2" textLength="23.91" lengthAdjust="spacingAndGlyphs">0.2</text>
<text x="882.38" y="1466.57" font-size="17.2" textLength="23.91" lengthAdjust="spacingAndGlyphs">0.3</text>
<text x="882.21" y="1425.56" font-size="17.2" textLength="23.91" lengthAdjust="spacingAndGlyphs">0.4</text>
<text x="882.38" y="1384.54" font-size="17.2" textLength="23.91" lengthAdjust="spacingAndGlyphs">0.5</text>
<text x="882.38" y="1343.53" font-size="17.2" textLength="23.91" lengthAdjust="spacingAndGlyphs">0.6</text>
<text x="882.55" y="1302.52" font-size="17.2" textLength="23.91" lengthAdjust="spacingAndGlyphs">0.7</text>
<text x="882.38" y="1261.51" font-size="17.2" textLength="23.91" lengthAdjust="spacingAndGlyphs">0.8</text>
<text x="882.47" y="1220.5" font-size="17.2" textLength="23.91" lengthAdjust="spacingAndGlyphs">0.9</text>
<text x="892.31" y="1624.8" font-size="21.9" textLength="56.01" lengthAdjust="spacingAndGlyphs">-1000</text>
<text x="997.47" y="1624.8" font-size="21.9" textLength="12.18" lengthAdjust="spacingAndGlyphs">0</text>
<text x="1058.8" y="1624.8" font-size="21.9" textLength="48.72" lengthAdjust="spacingAndGlyphs">1000</text>
<text x="1149.17" y="1624.8" font-size="21.9" textLength="48.72" lengthAdjust="spacingAndGlyphs">2000</text>
<text x="1241.68" y="1624.8" font-size="21.9" textLength="48.72" lengthAdjust="spacingAndGlyphs">3000</text>
<text x="1327.4" y="1624.8" font-size="21.9" textLength="48.72" lengthAdjust="spacingAndGlyphs">4000</text>
<text x="1406.38" y="1624.8" font-size="21.9" textLength="48.72" lengthAdjust="spacingAndGlyphs">5000</text>
<text x="1485.47" y="1624.8" font-size="21.9" textLength="48.72" lengthAdjust="spacingAndGlyphs">6000</text>
<text x="1565.37" y="1624.8" font-size="21.9" textLength="48.72" lengthAdjust="spacingAndGlyphs">7000</text>
<text x="848.98" y="1196.3" font-size="51.01" font-weight="bold" textLength="26.47" lengthAdjust="spacingAndGlyphs" style="fill:#000;stroke:#000;stroke-width:1.2px;stroke-linejoin:round">F</text>
<text x="1159.82" y="1186.7" font-size="33.8" textLength="160.38" lengthAdjust="spacingAndGlyphs">Eucalyptol</text>
<text x="1171.58" y="1662.7" font-size="27.83" textLength="177.85" lengthAdjust="spacingAndGlyphs">Elevation (m)</text>
<text x="-1463.15" y="874.5" font-size="25.51" textLength="172.98" lengthAdjust="spacingAndGlyphs" transform="rotate(-90)">Logistic output</text>
<line x1="161.9" y1="1755.5" x2="161.9" y2="2170.5" stroke="#d8d8d8" stroke-width="1.5"/>
<line x1="276.24" y1="1755.5" x2="276.24" y2="2170.5" stroke="#d8d8d8" stroke-width="1.5"/>
<line x1="390.58" y1="1755.5" x2="390.58" y2="2170.5" stroke="#d8d8d8" stroke-width="1.5"/>
<line x1="504.92" y1="1755.5" x2="504.92" y2="2170.5" stroke="#d8d8d8" stroke-width="1.5"/>
<line x1="619.26" y1="1755.5" x2="619.26" y2="2170.5" stroke="#d8d8d8" stroke-width="1.5"/>
<line x1="733.6" y1="1755.5" x2="733.6" y2="2170.5" stroke="#d8d8d8" stroke-width="1.5"/>
<line x1="81" y1="2153.1" x2="753.9" y2="2153.1" stroke="#cdcdcd" stroke-width="1.7"/>
<line x1="81" y1="2097.54" x2="753.9" y2="2097.54" stroke="#cdcdcd" stroke-width="1.7"/>
<line x1="81" y1="2041.99" x2="753.9" y2="2041.99" stroke="#cdcdcd" stroke-width="1.7"/>
<line x1="81" y1="1986.43" x2="753.9" y2="1986.43" stroke="#cdcdcd" stroke-width="1.7"/>
<line x1="81" y1="1930.87" x2="753.9" y2="1930.87" stroke="#cdcdcd" stroke-width="1.7"/>
<line x1="81" y1="1875.31" x2="753.9" y2="1875.31" stroke="#cdcdcd" stroke-width="1.7"/>
<line x1="81" y1="1819.76" x2="753.9" y2="1819.76" stroke="#cdcdcd" stroke-width="1.7"/>
<line x1="81" y1="1764.2" x2="753.9" y2="1764.2" stroke="#cdcdcd" stroke-width="1.7"/>
<path d="M180,2141C181.33,2136.83 184.25,2131.83 186,2125C187.75,2118.17 189.23,2110.6 190.5,2100C191.77,2089.4 192.6,2074.73 193.6,2061.4C194.6,2048.07 195.72,2031.07 196.5,2020C197.28,2008.93 197.55,2009.47 198.3,1995C199.05,1980.53 199.93,1951.75 201,1933.2C202.07,1914.65 203.77,1895.67 204.7,1883.7C205.63,1871.73 205.35,1868.62 206.6,1861.4C207.85,1854.18 210.45,1847 212.2,1840.4C213.95,1833.8 215.67,1825.52 217.1,1821.8C218.53,1818.08 220.8,1818.1 220.8,1818.1C220.8,1818.1 226.4,1822.03 229.5,1824.3C232.6,1826.57 239.4,1831.7 239.4,1831.7C239.4,1831.7 243.13,1828 245.6,1824.3C248.07,1820.6 251.12,1815.07 254.2,1809.5C257.28,1803.93 260.38,1795.65 264.1,1790.9C267.82,1786.15 271.97,1783.57 276.5,1781C281.03,1778.43 285.73,1776.42 291.3,1775.5C296.87,1774.58 303.72,1774.78 309.9,1775.5C316.08,1776.22 321.18,1777.97 328.4,1779.8C335.62,1781.63 346.27,1784.72 353.2,1786.5C360.13,1788.28 358.95,1787.52 370,1790.5C381.05,1793.48 403,1799.6 419.5,1804.4C436,1809.2 452.52,1814.15 469,1819.3C485.48,1824.45 501.92,1829.53 518.4,1835.3C534.88,1841.07 551.4,1847.92 567.9,1853.9C584.4,1859.88 600.28,1866.05 617.4,1871.2C634.52,1876.35 670.6,1884.8 670.6,1884.8L723.3,1884.8L723.3,2110.7L668.1,2110.7C668.1,2110.7 634.1,2101.17 617.4,2096.3C600.7,2091.43 584.4,2086.85 567.9,2081.5C551.4,2076.15 534.88,2070.8 518.4,2064.2C501.92,2057.6 485.48,2050.15 469,2041.9C452.52,2033.65 436,2022.93 419.5,2014.7C403,2006.47 383.12,1998.05 370,1992.5C356.88,1986.95 349.78,1985.1 340.8,1981.4C331.82,1977.7 322.28,1973.4 316.1,1970.3C309.92,1967.2 307.83,1965.9 303.7,1962.8C299.57,1959.7 295.43,1956.63 291.3,1951.7C287.17,1946.77 282.6,1940 278.9,1933.2C275.2,1926.4 272.18,1918.12 269.1,1910.9C266.02,1903.68 263.3,1896.92 260.4,1889.9C257.5,1882.88 254.17,1873.33 251.7,1868.8C249.23,1864.27 245.6,1862.7 245.6,1862.7C245.6,1862.7 240.78,1869.88 238.1,1877.5C235.42,1885.12 232.38,1897.07 229.5,1908.4C226.62,1919.73 223.68,1930.23 220.8,1945.5C217.92,1960.77 214.72,1983.77 212.2,2000C209.68,2016.23 207.97,2026.47 205.7,2042.9C203.43,2059.33 200.72,2084.92 198.6,2098.6C196.48,2112.28 195.1,2117.77 193,2125C190.9,2132.23 188.5,2137.83 186,2142C183.5,2146.17 178,2150 178,2150C178,2150 178.67,2145.17 180,2141Z" fill="#225aaa"/>
<path d="M110,2152.9C110,2152.9 151.17,2152.58 161.4,2152.1C171.63,2151.62 168.3,2151.78 171.4,2150C174.5,2148.22 177.62,2145.22 180,2141.4C182.38,2137.58 183.8,2132.82 185.7,2127.1C187.6,2121.38 189.73,2115.67 191.4,2107.1C193.07,2098.53 194.5,2085.7 195.7,2075.7C196.9,2065.7 197.65,2056.62 198.6,2047.1C199.55,2037.58 200.7,2026.45 201.4,2018.6C202.1,2010.75 202.03,2012.18 202.8,2000C203.57,1987.82 204.43,1960.77 206,1945.5C207.57,1930.23 210.15,1918.92 212.2,1908.4C214.25,1897.88 216.25,1888.17 218.3,1882.4C220.35,1876.63 222.02,1877.7 224.5,1873.8C226.98,1869.9 230.32,1863.53 233.2,1859C236.08,1854.47 239.12,1849.38 241.8,1846.6C244.48,1843.82 246.2,1843.02 249.3,1842.3C252.4,1841.58 257.1,1841.17 260.4,1842.3C263.7,1843.43 266.02,1846.73 269.1,1849.1C272.18,1851.47 275.2,1854.23 278.9,1856.5C282.6,1858.77 287.17,1860.85 291.3,1862.7C295.43,1864.55 297.52,1865.33 303.7,1867.6C309.88,1869.87 320.15,1873.42 328.4,1876.3C336.65,1879.18 346.27,1882.45 353.2,1884.9C360.13,1887.35 358.95,1886.68 370,1891C381.05,1895.32 403,1903.78 419.5,1910.8C436,1917.82 452.52,1926.1 469,1933.1C485.48,1940.1 501.92,1946.62 518.4,1952.8C534.88,1958.98 551.4,1964.42 567.9,1970.2C584.4,1975.98 600.5,1982.97 617.4,1987.5C634.3,1992.03 669.3,1997.4 669.3,1997.4C669.3,1997.4 723.3,1997.4 723.3,1997.4" fill="none" stroke="#b0245e" stroke-width="3.3" stroke-linejoin="round" stroke-linecap="butt"/>
<rect x="81" y="1755.5" width="672.9" height="415" fill="none" stroke="#2b2b2b" stroke-width="1.8"/>
<line x1="161.9" y1="2170.5" x2="161.9" y2="2165" stroke="#2b2b2b" stroke-width="2.0"/>
<line x1="161.9" y1="1755.5" x2="161.9" y2="1761" stroke="#2b2b2b" stroke-width="2.0"/>
<line x1="276.24" y1="2170.5" x2="276.24" y2="2165" stroke="#2b2b2b" stroke-width="2.0"/>
<line x1="276.24" y1="1755.5" x2="276.24" y2="1761" stroke="#2b2b2b" stroke-width="2.0"/>
<line x1="390.58" y1="2170.5" x2="390.58" y2="2165" stroke="#2b2b2b" stroke-width="2.0"/>
<line x1="390.58" y1="1755.5" x2="390.58" y2="1761" stroke="#2b2b2b" stroke-width="2.0"/>
<line x1="504.92" y1="2170.5" x2="504.92" y2="2165" stroke="#2b2b2b" stroke-width="2.0"/>
<line x1="504.92" y1="1755.5" x2="504.92" y2="1761" stroke="#2b2b2b" stroke-width="2.0"/>
<line x1="619.26" y1="2170.5" x2="619.26" y2="2165" stroke="#2b2b2b" stroke-width="2.0"/>
<line x1="619.26" y1="1755.5" x2="619.26" y2="1761" stroke="#2b2b2b" stroke-width="2.0"/>
<line x1="733.6" y1="2170.5" x2="733.6" y2="2165" stroke="#2b2b2b" stroke-width="2.0"/>
<line x1="733.6" y1="1755.5" x2="733.6" y2="1761" stroke="#2b2b2b" stroke-width="2.0"/>
<line x1="81" y1="2153.1" x2="86.5" y2="2153.1" stroke="#2b2b2b" stroke-width="2.0"/>
<line x1="753.9" y1="2153.1" x2="748.4" y2="2153.1" stroke="#2b2b2b" stroke-width="2.0"/>
<line x1="81" y1="2097.54" x2="86.5" y2="2097.54" stroke="#2b2b2b" stroke-width="2.0"/>
<line x1="753.9" y1="2097.54" x2="748.4" y2="2097.54" stroke="#2b2b2b" stroke-width="2.0"/>
<line x1="81" y1="2041.99" x2="86.5" y2="2041.99" stroke="#2b2b2b" stroke-width="2.0"/>
<line x1="753.9" y1="2041.99" x2="748.4" y2="2041.99" stroke="#2b2b2b" stroke-width="2.0"/>
<line x1="81" y1="1986.43" x2="86.5" y2="1986.43" stroke="#2b2b2b" stroke-width="2.0"/>
<line x1="753.9" y1="1986.43" x2="748.4" y2="1986.43" stroke="#2b2b2b" stroke-width="2.0"/>
<line x1="81" y1="1930.87" x2="86.5" y2="1930.87" stroke="#2b2b2b" stroke-width="2.0"/>
<line x1="753.9" y1="1930.87" x2="748.4" y2="1930.87" stroke="#2b2b2b" stroke-width="2.0"/>
<line x1="81" y1="1875.31" x2="86.5" y2="1875.31" stroke="#2b2b2b" stroke-width="2.0"/>
<line x1="753.9" y1="1875.31" x2="748.4" y2="1875.31" stroke="#2b2b2b" stroke-width="2.0"/>
<line x1="81" y1="1819.76" x2="86.5" y2="1819.76" stroke="#2b2b2b" stroke-width="2.0"/>
<line x1="753.9" y1="1819.76" x2="748.4" y2="1819.76" stroke="#2b2b2b" stroke-width="2.0"/>
<line x1="81" y1="1764.2" x2="86.5" y2="1764.2" stroke="#2b2b2b" stroke-width="2.0"/>
<line x1="753.9" y1="1764.2" x2="748.4" y2="1764.2" stroke="#2b2b2b" stroke-width="2.0"/>
<text x="59.17" y="2163.6" font-size="21.4" textLength="11.9" lengthAdjust="spacingAndGlyphs">0</text>
<text x="41.52" y="2108.04" font-size="21.4" textLength="29.75" lengthAdjust="spacingAndGlyphs">0.1</text>
<text x="41.62" y="2052.49" font-size="21.4" textLength="29.75" lengthAdjust="spacingAndGlyphs">0.2</text>
<text x="41.41" y="1996.93" font-size="21.4" textLength="29.75" lengthAdjust="spacingAndGlyphs">0.3</text>
<text x="41.2" y="1941.37" font-size="21.4" textLength="29.75" lengthAdjust="spacingAndGlyphs">0.4</text>
<text x="41.41" y="1885.81" font-size="21.4" textLength="29.75" lengthAdjust="spacingAndGlyphs">0.5</text>
<text x="41.41" y="1830.26" font-size="21.4" textLength="29.75" lengthAdjust="spacingAndGlyphs">0.6</text>
<text x="41.62" y="1774.7" font-size="21.4" textLength="29.75" lengthAdjust="spacingAndGlyphs">0.7</text>
<text x="154.54" y="2194.2" font-size="22" textLength="12.24" lengthAdjust="spacingAndGlyphs">0</text>
<text x="252.43" y="2194.2" font-size="22" textLength="36.71" lengthAdjust="spacingAndGlyphs">500</text>
<text x="368.35" y="2194.2" font-size="22" textLength="36.71" lengthAdjust="spacingAndGlyphs">100</text>
<text x="484.05" y="2194.2" font-size="22" textLength="36.71" lengthAdjust="spacingAndGlyphs">150</text>
<text x="599.82" y="2194.2" font-size="22" textLength="36.71" lengthAdjust="spacingAndGlyphs">200</text>
<text x="715.52" y="2194.2" font-size="22" textLength="36.71" lengthAdjust="spacingAndGlyphs">250</text>
<text x="1.3" y="1736.8" font-size="52" font-weight="bold" textLength="36.99" lengthAdjust="spacingAndGlyphs" style="fill:#000;stroke:#000;stroke-width:1.2px;stroke-linejoin:round">G</text>
<text x="302.27" y="1745" font-size="34.08" textLength="142.05" lengthAdjust="spacingAndGlyphs">Camphor</text>
<text x="80.55" y="2231.2" font-size="27.59" textLength="698.83" lengthAdjust="spacingAndGlyphs" transform="rotate(-0.17 430 2231.2)">bio_14 the maximum driest month precipitation (mm)</text>
<text x="-2020.35" y="22.4" font-size="25.51" textLength="172.98" lengthAdjust="spacingAndGlyphs" transform="rotate(-90)">Logistic output</text>
<line x1="922.96" y1="1755.4" x2="922.96" y2="2176" stroke="#d8d8d8" stroke-width="1.5"/>
<line x1="1003.5" y1="1755.4" x2="1003.5" y2="2176" stroke="#d8d8d8" stroke-width="1.5"/>
<line x1="1084.04" y1="1755.4" x2="1084.04" y2="2176" stroke="#d8d8d8" stroke-width="1.5"/>
<line x1="1164.59" y1="1755.4" x2="1164.59" y2="2176" stroke="#d8d8d8" stroke-width="1.5"/>
<line x1="1245.13" y1="1755.4" x2="1245.13" y2="2176" stroke="#d8d8d8" stroke-width="1.5"/>
<line x1="1325.67" y1="1755.4" x2="1325.67" y2="2176" stroke="#d8d8d8" stroke-width="1.5"/>
<line x1="1406.21" y1="1755.4" x2="1406.21" y2="2176" stroke="#d8d8d8" stroke-width="1.5"/>
<line x1="1486.76" y1="1755.4" x2="1486.76" y2="2176" stroke="#d8d8d8" stroke-width="1.5"/>
<line x1="1567.3" y1="1755.4" x2="1567.3" y2="2176" stroke="#d8d8d8" stroke-width="1.5"/>
<line x1="908.8" y1="2158" x2="1599.2" y2="2158" stroke="#cdcdcd" stroke-width="1.7"/>
<line x1="908.8" y1="2101.56" x2="1599.2" y2="2101.56" stroke="#cdcdcd" stroke-width="1.7"/>
<line x1="908.8" y1="2045.11" x2="1599.2" y2="2045.11" stroke="#cdcdcd" stroke-width="1.7"/>
<line x1="908.8" y1="1988.67" x2="1599.2" y2="1988.67" stroke="#cdcdcd" stroke-width="1.7"/>
<line x1="908.8" y1="1932.23" x2="1599.2" y2="1932.23" stroke="#cdcdcd" stroke-width="1.7"/>
<line x1="908.8" y1="1875.79" x2="1599.2" y2="1875.79" stroke="#cdcdcd" stroke-width="1.7"/>
<line x1="908.8" y1="1819.34" x2="1599.2" y2="1819.34" stroke="#cdcdcd" stroke-width="1.7"/>
<line x1="908.8" y1="1762.9" x2="1599.2" y2="1762.9" stroke="#cdcdcd" stroke-width="1.7"/>
<path d="M937.9,2069.3L988.6,2069.3C988.6,2069.3 991.48,2058 992.9,2044.3C994.32,2030.6 995.77,2005.53 997.1,1987.1C998.43,1968.67 999.67,1954.88 1000.9,1933.7C1002.13,1912.52 1003.57,1879.18 1004.5,1860C1005.43,1840.82 1005.75,1831.1 1006.5,1818.6C1007.25,1806.1 1008.07,1792.15 1009,1785C1009.93,1777.85 1012.1,1775.7 1012.1,1775.7C1012.1,1775.7 1014.77,1780.95 1016,1785C1017.23,1789.05 1018.42,1794.4 1019.5,1800C1020.58,1805.6 1021.3,1811.17 1022.5,1818.6C1023.7,1826.03 1024.8,1834.33 1026.7,1844.6C1028.6,1854.87 1031.37,1866.83 1033.9,1880.2C1036.43,1893.57 1039.53,1911.43 1041.9,1924.8C1044.27,1938.17 1046.17,1950 1048.1,1960.4C1050.03,1970.8 1051.6,1978.93 1053.5,1987.2C1055.4,1995.47 1057.33,2002.2 1059.5,2010C1061.67,2017.8 1063.57,2024.57 1066.5,2034C1069.43,2043.43 1073.27,2055.4 1077.1,2066.6C1080.93,2077.8 1085.38,2091.52 1089.5,2101.2C1093.62,2110.88 1097.27,2117.9 1101.8,2124.7C1106.33,2131.5 1110.5,2137.05 1116.7,2142C1122.9,2146.95 1131.17,2151.72 1139,2154.4C1146.83,2157.08 1163.7,2158.1 1163.7,2158.1L1091.9,2158.1C1091.9,2158.1 1086.8,2159.37 1083.3,2156.9C1079.8,2154.43 1074.62,2149.08 1070.9,2143.3C1067.18,2137.52 1063.9,2129.58 1061,2122.2C1058.1,2114.82 1055.97,2108.7 1053.5,2099C1051.03,2089.3 1048.37,2075.83 1046.2,2064C1044.03,2052.17 1042.33,2038.67 1040.5,2028C1038.67,2017.33 1036.3,2006.58 1035.2,2000C1034.1,1993.42 1035.32,1999.85 1033.9,1988.5C1032.48,1977.15 1028.63,1950.68 1026.7,1931.9C1024.77,1913.12 1023.78,1891.83 1022.3,1875.8C1020.82,1859.77 1019.42,1845.83 1017.8,1835.7C1016.18,1825.57 1012.6,1815 1012.6,1815C1012.6,1815 1011.02,1819.87 1010.3,1830C1009.58,1840.13 1009.15,1857.03 1008.3,1875.8C1007.45,1894.57 1005.98,1919.28 1005.2,1942.6C1004.42,1965.92 1004.35,1993.98 1003.6,2015.7C1002.85,2037.42 1001.53,2056.23 1000.7,2072.9C999.87,2089.57 999.55,2101.5 998.6,2115.7C997.65,2129.9 995,2158.1 995,2158.1L937.9,2158.1L937.9,2069.3Z" fill="#225aaa"/>
<path d="M940,2115.7C940,2115.7 991.4,2115.7 991.4,2115.7C991.4,2115.7 996.57,2068.1 998.6,2044.3C1000.63,2020.5 1002.42,1991.95 1003.6,1972.9C1004.78,1953.85 1004.98,1955.72 1005.7,1930C1006.42,1904.28 1006.83,1841.93 1007.9,1818.6C1008.97,1795.27 1012.1,1790 1012.1,1790C1012.1,1790 1013.15,1790.9 1014.7,1800C1016.25,1809.1 1019.1,1829.75 1021.4,1844.6C1023.7,1859.45 1026.12,1874.55 1028.5,1889.1C1030.88,1903.65 1033.32,1918.53 1035.7,1931.9C1038.08,1945.27 1040.88,1957.95 1042.8,1969.3C1044.72,1980.65 1045.6,1989.97 1047.2,2000C1048.8,2010.03 1049.88,2017.37 1052.4,2029.5C1054.92,2041.63 1058.8,2060.43 1062.3,2072.8C1065.8,2085.17 1069.28,2094.43 1073.4,2103.7C1077.52,2112.97 1082.27,2121.8 1087,2128.4C1091.73,2135 1096.23,2139.38 1101.8,2143.3C1107.37,2147.22 1113.18,2149.73 1120.4,2151.9C1127.62,2154.07 1135.83,2155.27 1145.1,2156.3C1154.37,2157.33 1105.85,2157.8 1176,2158.1C1246.15,2158.4 1566,2158.1 1566,2158.1" fill="none" stroke="#b0245e" stroke-width="3.3" stroke-linejoin="round" stroke-linecap="butt"/>
<rect x="908.8" y="1755.4" width="690.4" height="420.6" fill="none" stroke="#2b2b2b" stroke-width="1.8"/>
<line x1="922.96" y1="2176" x2="922.96" y2="2170.5" stroke="#2b2b2b" stroke-width="2.0"/>
<line x1="922.96" y1="1755.4" x2="922.96" y2="1760.9" stroke="#2b2b2b" stroke-width="2.0"/>
<line x1="1003.5" y1="2176" x2="1003.5" y2="2170.5" stroke="#2b2b2b" stroke-width="2.0"/>
<line x1="1003.5" y1="1755.4" x2="1003.5" y2="1760.9" stroke="#2b2b2b" stroke-width="2.0"/>
<line x1="1084.04" y1="2176" x2="1084.04" y2="2170.5" stroke="#2b2b2b" stroke-width="2.0"/>
<line x1="1084.04" y1="1755.4" x2="1084.04" y2="1760.9" stroke="#2b2b2b" stroke-width="2.0"/>
<line x1="1164.59" y1="2176" x2="1164.59" y2="2170.5" stroke="#2b2b2b" stroke-width="2.0"/>
<line x1="1164.59" y1="1755.4" x2="1164.59" y2="1760.9" stroke="#2b2b2b" stroke-width="2.0"/>
<line x1="1245.13" y1="2176" x2="1245.13" y2="2170.5" stroke="#2b2b2b" stroke-width="2.0"/>
<line x1="1245.13" y1="1755.4" x2="1245.13" y2="1760.9" stroke="#2b2b2b" stroke-width="2.0"/>
<line x1="1325.67" y1="2176" x2="1325.67" y2="2170.5" stroke="#2b2b2b" stroke-width="2.0"/>
<line x1="1325.67" y1="1755.4" x2="1325.67" y2="1760.9" stroke="#2b2b2b" stroke-width="2.0"/>
<line x1="1406.21" y1="2176" x2="1406.21" y2="2170.5" stroke="#2b2b2b" stroke-width="2.0"/>
<line x1="1406.21" y1="1755.4" x2="1406.21" y2="1760.9" stroke="#2b2b2b" stroke-width="2.0"/>
<line x1="1486.76" y1="2176" x2="1486.76" y2="2170.5" stroke="#2b2b2b" stroke-width="2.0"/>
<line x1="1486.76" y1="1755.4" x2="1486.76" y2="1760.9" stroke="#2b2b2b" stroke-width="2.0"/>
<line x1="1567.3" y1="2176" x2="1567.3" y2="2170.5" stroke="#2b2b2b" stroke-width="2.0"/>
<line x1="1567.3" y1="1755.4" x2="1567.3" y2="1760.9" stroke="#2b2b2b" stroke-width="2.0"/>
<line x1="908.8" y1="2158" x2="914.3" y2="2158" stroke="#2b2b2b" stroke-width="2.0"/>
<line x1="1599.2" y1="2158" x2="1593.7" y2="2158" stroke="#2b2b2b" stroke-width="2.0"/>
<line x1="908.8" y1="2101.56" x2="914.3" y2="2101.56" stroke="#2b2b2b" stroke-width="2.0"/>
<line x1="1599.2" y1="2101.56" x2="1593.7" y2="2101.56" stroke="#2b2b2b" stroke-width="2.0"/>
<line x1="908.8" y1="2045.11" x2="914.3" y2="2045.11" stroke="#2b2b2b" stroke-width="2.0"/>
<line x1="1599.2" y1="2045.11" x2="1593.7" y2="2045.11" stroke="#2b2b2b" stroke-width="2.0"/>
<line x1="908.8" y1="1988.67" x2="914.3" y2="1988.67" stroke="#2b2b2b" stroke-width="2.0"/>
<line x1="1599.2" y1="1988.67" x2="1593.7" y2="1988.67" stroke="#2b2b2b" stroke-width="2.0"/>
<line x1="908.8" y1="1932.23" x2="914.3" y2="1932.23" stroke="#2b2b2b" stroke-width="2.0"/>
<line x1="1599.2" y1="1932.23" x2="1593.7" y2="1932.23" stroke="#2b2b2b" stroke-width="2.0"/>
<line x1="908.8" y1="1875.79" x2="914.3" y2="1875.79" stroke="#2b2b2b" stroke-width="2.0"/>
<line x1="1599.2" y1="1875.79" x2="1593.7" y2="1875.79" stroke="#2b2b2b" stroke-width="2.0"/>
<line x1="908.8" y1="1819.34" x2="914.3" y2="1819.34" stroke="#2b2b2b" stroke-width="2.0"/>
<line x1="1599.2" y1="1819.34" x2="1593.7" y2="1819.34" stroke="#2b2b2b" stroke-width="2.0"/>
<line x1="908.8" y1="1762.9" x2="914.3" y2="1762.9" stroke="#2b2b2b" stroke-width="2.0"/>
<line x1="1599.2" y1="1762.9" x2="1593.7" y2="1762.9" stroke="#2b2b2b" stroke-width="2.0"/>
<text x="887.07" y="2165.4" font-size="21.4" textLength="11.9" lengthAdjust="spacingAndGlyphs">0</text>
<text x="869.42" y="2109.57" font-size="21.4" textLength="29.75" lengthAdjust="spacingAndGlyphs">0.1</text>
<text x="869.52" y="2053.74" font-size="21.4" textLength="29.75" lengthAdjust="spacingAndGlyphs">0.2</text>
<text x="869.31" y="1997.91" font-size="21.4" textLength="29.75" lengthAdjust="spacingAndGlyphs">0.3</text>
<text x="869.1" y="1942.09" font-size="21.4" textLength="29.75" lengthAdjust="spacingAndGlyphs">0.4</text>
<text x="869.31" y="1886.26" font-size="21.4" textLength="29.75" lengthAdjust="spacingAndGlyphs">0.5</text>
<text x="869.31" y="1830.43" font-size="21.4" textLength="29.75" lengthAdjust="spacingAndGlyphs">0.6</text>
<text x="869.52" y="1774.6" font-size="21.4" textLength="29.75" lengthAdjust="spacingAndGlyphs">0.7</text>
<text x="890.18" y="2200.9" font-size="21.3" textLength="54.48" lengthAdjust="spacingAndGlyphs">-1000</text>
<text x="992.64" y="2200.9" font-size="21.3" textLength="11.85" lengthAdjust="spacingAndGlyphs">0</text>
<text x="1052.18" y="2200.9" font-size="21.3" textLength="47.39" lengthAdjust="spacingAndGlyphs">1000</text>
<text x="1141.14" y="2200.9" font-size="21.3" textLength="47.39" lengthAdjust="spacingAndGlyphs">2000</text>
<text x="1230.35" y="2200.9" font-size="21.3" textLength="47.39" lengthAdjust="spacingAndGlyphs">3000</text>
<text x="1313.56" y="2200.9" font-size="21.3" textLength="47.39" lengthAdjust="spacingAndGlyphs">4000</text>
<text x="1391.35" y="2200.9" font-size="21.3" textLength="47.39" lengthAdjust="spacingAndGlyphs">5000</text>
<text x="1467.94" y="2200.9" font-size="21.3" textLength="47.39" lengthAdjust="spacingAndGlyphs">6000</text>
<text x="1545.64" y="2200.9" font-size="21.3" textLength="47.39" lengthAdjust="spacingAndGlyphs">7000</text>
<text x="854.51" y="1736" font-size="50.58" font-weight="bold" textLength="33.17" lengthAdjust="spacingAndGlyphs" style="fill:#000;stroke:#000;stroke-width:1.2px;stroke-linejoin:round">H</text>
<text x="1171.67" y="1745" font-size="34.08" textLength="142.66" lengthAdjust="spacingAndGlyphs">Camphor</text>
<text x="1171.58" y="2234.7" font-size="27.1" textLength="177.85" lengthAdjust="spacingAndGlyphs">Elevation (m)</text>
<text x="-2010.66" y="856.3" font-size="25.36" textLength="173.9" lengthAdjust="spacingAndGlyphs" transform="rotate(-90)">Logistic output</text>
</svg>
</body></html>
